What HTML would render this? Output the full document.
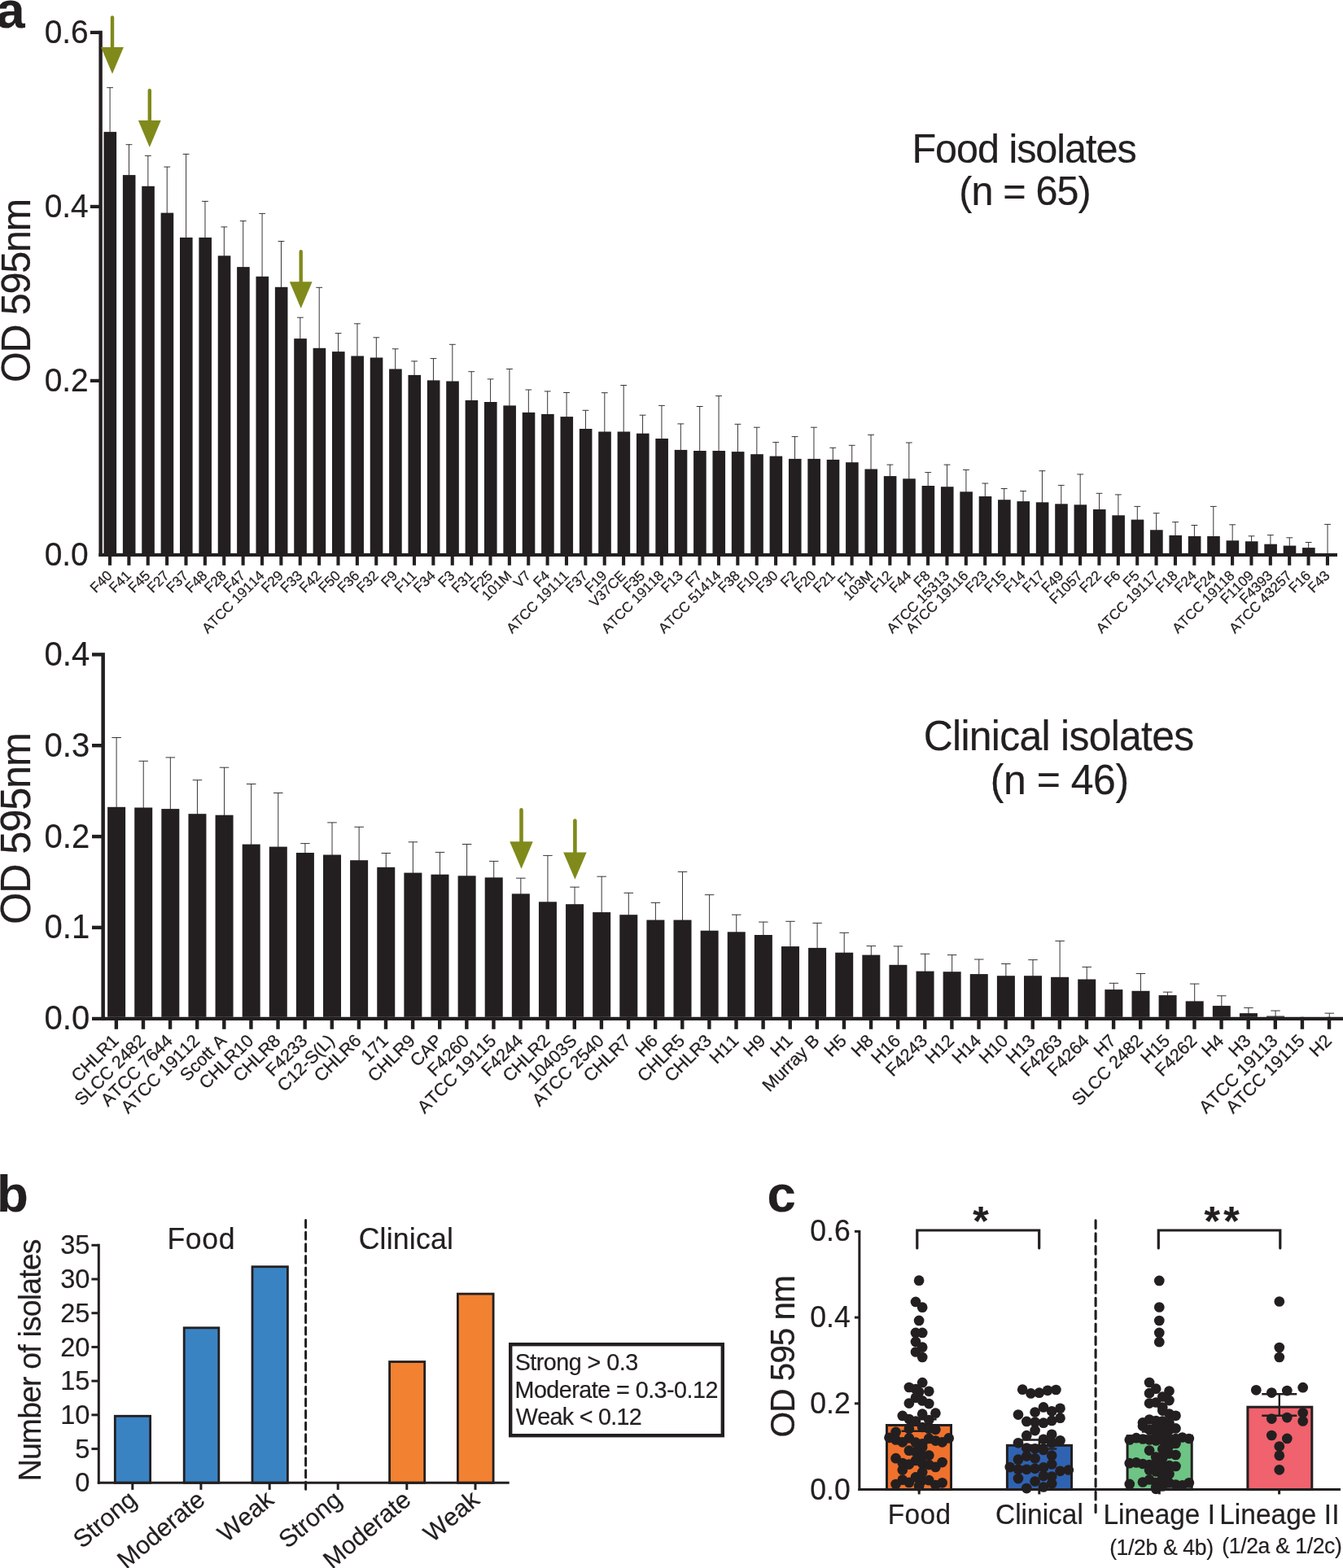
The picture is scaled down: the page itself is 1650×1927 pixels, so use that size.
<!DOCTYPE html>
<html lang="en">
<head>
<meta charset="utf-8">
<title>Biofilm formation of Listeria monocytogenes isolates</title>
<style>
html,body{margin:0;padding:0;background:#fff;}
body{width:1650px;height:1927px;overflow:hidden;}
svg{display:block;}
svg text{font-family:"Liberation Sans", Arial, Helvetica, sans-serif;fill:#231f20;font-kerning:none;stroke:#231f20;stroke-width:0.2px;}
svg text.sm{stroke:#231f20;stroke-width:0.25px;}
</style>
</head>
<body>
<svg width="1650" height="1927" viewBox="0 0 1650 1927" role="img" aria-label="Biofilm formation (OD 595nm) of food and clinical Listeria monocytogenes isolates">
<rect x="0" y="0" width="1650" height="1927" fill="#ffffff"/>
<g id="chartA1">
<line x1="135.10" y1="107.70" x2="135.10" y2="163.10" stroke="#231f20" stroke-width="0.9"/>
<line x1="131.20" y1="107.70" x2="139.00" y2="107.70" stroke="#231f20" stroke-width="0.9"/>
<rect x="127.50" y="162.10" width="15.60" height="517.90" fill="#231f20"/>
<rect x="132.95" y="680.00" width="4.10" height="14.80" fill="#231f20"/>
<line x1="158.47" y1="177.70" x2="158.47" y2="216.10" stroke="#231f20" stroke-width="0.9"/>
<line x1="154.57" y1="177.70" x2="162.37" y2="177.70" stroke="#231f20" stroke-width="0.9"/>
<rect x="150.87" y="215.10" width="15.60" height="464.90" fill="#231f20"/>
<rect x="156.32" y="680.00" width="4.10" height="14.80" fill="#231f20"/>
<line x1="181.85" y1="191.40" x2="181.85" y2="229.80" stroke="#231f20" stroke-width="0.9"/>
<line x1="177.95" y1="191.40" x2="185.75" y2="191.40" stroke="#231f20" stroke-width="0.9"/>
<rect x="174.25" y="228.80" width="15.60" height="451.20" fill="#231f20"/>
<rect x="179.70" y="680.00" width="4.10" height="14.80" fill="#231f20"/>
<line x1="205.22" y1="205.10" x2="205.22" y2="262.60" stroke="#231f20" stroke-width="0.9"/>
<line x1="201.32" y1="205.10" x2="209.12" y2="205.10" stroke="#231f20" stroke-width="0.9"/>
<rect x="197.62" y="261.60" width="15.60" height="418.40" fill="#231f20"/>
<rect x="203.07" y="680.00" width="4.10" height="14.80" fill="#231f20"/>
<line x1="228.60" y1="189.40" x2="228.60" y2="292.90" stroke="#231f20" stroke-width="0.9"/>
<line x1="224.70" y1="189.40" x2="232.50" y2="189.40" stroke="#231f20" stroke-width="0.9"/>
<rect x="221.00" y="291.90" width="15.60" height="388.10" fill="#231f20"/>
<rect x="226.45" y="680.00" width="4.10" height="14.80" fill="#231f20"/>
<line x1="251.97" y1="247.40" x2="251.97" y2="292.90" stroke="#231f20" stroke-width="0.9"/>
<line x1="248.07" y1="247.40" x2="255.87" y2="247.40" stroke="#231f20" stroke-width="0.9"/>
<rect x="244.37" y="291.90" width="15.60" height="388.10" fill="#231f20"/>
<rect x="249.82" y="680.00" width="4.10" height="14.80" fill="#231f20"/>
<line x1="275.34" y1="278.90" x2="275.34" y2="315.30" stroke="#231f20" stroke-width="0.9"/>
<line x1="271.44" y1="278.90" x2="279.24" y2="278.90" stroke="#231f20" stroke-width="0.9"/>
<rect x="267.74" y="314.30" width="15.60" height="365.70" fill="#231f20"/>
<rect x="273.19" y="680.00" width="4.10" height="14.80" fill="#231f20"/>
<line x1="298.72" y1="271.60" x2="298.72" y2="329.10" stroke="#231f20" stroke-width="0.9"/>
<line x1="294.82" y1="271.60" x2="302.62" y2="271.60" stroke="#231f20" stroke-width="0.9"/>
<rect x="291.12" y="328.10" width="15.60" height="351.90" fill="#231f20"/>
<rect x="296.57" y="680.00" width="4.10" height="14.80" fill="#231f20"/>
<line x1="322.09" y1="262.40" x2="322.09" y2="340.80" stroke="#231f20" stroke-width="0.9"/>
<line x1="318.19" y1="262.40" x2="325.99" y2="262.40" stroke="#231f20" stroke-width="0.9"/>
<rect x="314.49" y="339.80" width="15.60" height="340.20" fill="#231f20"/>
<rect x="319.94" y="680.00" width="4.10" height="14.80" fill="#231f20"/>
<line x1="345.47" y1="296.50" x2="345.47" y2="353.80" stroke="#231f20" stroke-width="0.9"/>
<line x1="341.57" y1="296.50" x2="349.37" y2="296.50" stroke="#231f20" stroke-width="0.9"/>
<rect x="337.87" y="352.80" width="15.60" height="327.20" fill="#231f20"/>
<rect x="343.32" y="680.00" width="4.10" height="14.80" fill="#231f20"/>
<line x1="368.84" y1="390.20" x2="368.84" y2="417.10" stroke="#231f20" stroke-width="0.9"/>
<line x1="364.94" y1="390.20" x2="372.74" y2="390.20" stroke="#231f20" stroke-width="0.9"/>
<rect x="361.24" y="416.10" width="15.60" height="263.90" fill="#231f20"/>
<rect x="366.69" y="680.00" width="4.10" height="14.80" fill="#231f20"/>
<line x1="392.21" y1="353.30" x2="392.21" y2="428.80" stroke="#231f20" stroke-width="0.9"/>
<line x1="388.31" y1="353.30" x2="396.11" y2="353.30" stroke="#231f20" stroke-width="0.9"/>
<rect x="384.61" y="427.80" width="15.60" height="252.20" fill="#231f20"/>
<rect x="390.06" y="680.00" width="4.10" height="14.80" fill="#231f20"/>
<line x1="415.59" y1="409.60" x2="415.59" y2="433.10" stroke="#231f20" stroke-width="0.9"/>
<line x1="411.69" y1="409.60" x2="419.49" y2="409.60" stroke="#231f20" stroke-width="0.9"/>
<rect x="407.99" y="432.10" width="15.60" height="247.90" fill="#231f20"/>
<rect x="413.44" y="680.00" width="4.10" height="14.80" fill="#231f20"/>
<line x1="438.96" y1="397.80" x2="438.96" y2="438.50" stroke="#231f20" stroke-width="0.9"/>
<line x1="435.06" y1="397.80" x2="442.86" y2="397.80" stroke="#231f20" stroke-width="0.9"/>
<rect x="431.36" y="437.50" width="15.60" height="242.50" fill="#231f20"/>
<rect x="436.81" y="680.00" width="4.10" height="14.80" fill="#231f20"/>
<line x1="462.34" y1="414.80" x2="462.34" y2="440.50" stroke="#231f20" stroke-width="0.9"/>
<line x1="458.44" y1="414.80" x2="466.24" y2="414.80" stroke="#231f20" stroke-width="0.9"/>
<rect x="454.74" y="439.50" width="15.60" height="240.50" fill="#231f20"/>
<rect x="460.19" y="680.00" width="4.10" height="14.80" fill="#231f20"/>
<line x1="485.71" y1="428.80" x2="485.71" y2="454.50" stroke="#231f20" stroke-width="0.9"/>
<line x1="481.81" y1="428.80" x2="489.61" y2="428.80" stroke="#231f20" stroke-width="0.9"/>
<rect x="478.11" y="453.50" width="15.60" height="226.50" fill="#231f20"/>
<rect x="483.56" y="680.00" width="4.10" height="14.80" fill="#231f20"/>
<line x1="509.08" y1="443.90" x2="509.08" y2="461.90" stroke="#231f20" stroke-width="0.9"/>
<line x1="505.18" y1="443.90" x2="512.98" y2="443.90" stroke="#231f20" stroke-width="0.9"/>
<rect x="501.48" y="460.90" width="15.60" height="219.10" fill="#231f20"/>
<rect x="506.93" y="680.00" width="4.10" height="14.80" fill="#231f20"/>
<line x1="532.46" y1="440.60" x2="532.46" y2="468.40" stroke="#231f20" stroke-width="0.9"/>
<line x1="528.56" y1="440.60" x2="536.36" y2="440.60" stroke="#231f20" stroke-width="0.9"/>
<rect x="524.86" y="467.40" width="15.60" height="212.60" fill="#231f20"/>
<rect x="530.31" y="680.00" width="4.10" height="14.80" fill="#231f20"/>
<line x1="555.83" y1="423.30" x2="555.83" y2="469.50" stroke="#231f20" stroke-width="0.9"/>
<line x1="551.93" y1="423.30" x2="559.73" y2="423.30" stroke="#231f20" stroke-width="0.9"/>
<rect x="548.23" y="468.50" width="15.60" height="211.50" fill="#231f20"/>
<rect x="553.68" y="680.00" width="4.10" height="14.80" fill="#231f20"/>
<line x1="579.21" y1="456.70" x2="579.21" y2="492.90" stroke="#231f20" stroke-width="0.9"/>
<line x1="575.31" y1="456.70" x2="583.11" y2="456.70" stroke="#231f20" stroke-width="0.9"/>
<rect x="571.61" y="491.90" width="15.60" height="188.10" fill="#231f20"/>
<rect x="577.06" y="680.00" width="4.10" height="14.80" fill="#231f20"/>
<line x1="602.58" y1="465.90" x2="602.58" y2="495.00" stroke="#231f20" stroke-width="0.9"/>
<line x1="598.68" y1="465.90" x2="606.48" y2="465.90" stroke="#231f20" stroke-width="0.9"/>
<rect x="594.98" y="494.00" width="15.60" height="186.00" fill="#231f20"/>
<rect x="600.43" y="680.00" width="4.10" height="14.80" fill="#231f20"/>
<line x1="625.95" y1="453.50" x2="625.95" y2="499.40" stroke="#231f20" stroke-width="0.9"/>
<line x1="622.05" y1="453.50" x2="629.85" y2="453.50" stroke="#231f20" stroke-width="0.9"/>
<rect x="618.35" y="498.40" width="15.60" height="181.60" fill="#231f20"/>
<rect x="623.80" y="680.00" width="4.10" height="14.80" fill="#231f20"/>
<line x1="649.33" y1="479.00" x2="649.33" y2="507.90" stroke="#231f20" stroke-width="0.9"/>
<line x1="645.43" y1="479.00" x2="653.23" y2="479.00" stroke="#231f20" stroke-width="0.9"/>
<rect x="641.73" y="506.90" width="15.60" height="173.10" fill="#231f20"/>
<rect x="647.18" y="680.00" width="4.10" height="14.80" fill="#231f20"/>
<line x1="672.70" y1="480.90" x2="672.70" y2="509.90" stroke="#231f20" stroke-width="0.9"/>
<line x1="668.80" y1="480.90" x2="676.60" y2="480.90" stroke="#231f20" stroke-width="0.9"/>
<rect x="665.10" y="508.90" width="15.60" height="171.10" fill="#231f20"/>
<rect x="670.55" y="680.00" width="4.10" height="14.80" fill="#231f20"/>
<line x1="696.08" y1="482.50" x2="696.08" y2="513.10" stroke="#231f20" stroke-width="0.9"/>
<line x1="692.18" y1="482.50" x2="699.98" y2="482.50" stroke="#231f20" stroke-width="0.9"/>
<rect x="688.48" y="512.10" width="15.60" height="167.90" fill="#231f20"/>
<rect x="693.93" y="680.00" width="4.10" height="14.80" fill="#231f20"/>
<line x1="719.45" y1="504.30" x2="719.45" y2="528.00" stroke="#231f20" stroke-width="0.9"/>
<line x1="715.55" y1="504.30" x2="723.35" y2="504.30" stroke="#231f20" stroke-width="0.9"/>
<rect x="711.85" y="527.00" width="15.60" height="153.00" fill="#231f20"/>
<rect x="717.30" y="680.00" width="4.10" height="14.80" fill="#231f20"/>
<line x1="742.82" y1="482.70" x2="742.82" y2="531.50" stroke="#231f20" stroke-width="0.9"/>
<line x1="738.92" y1="482.70" x2="746.72" y2="482.70" stroke="#231f20" stroke-width="0.9"/>
<rect x="735.22" y="530.50" width="15.60" height="149.50" fill="#231f20"/>
<rect x="740.67" y="680.00" width="4.10" height="14.80" fill="#231f20"/>
<line x1="766.20" y1="473.50" x2="766.20" y2="531.50" stroke="#231f20" stroke-width="0.9"/>
<line x1="762.30" y1="473.50" x2="770.10" y2="473.50" stroke="#231f20" stroke-width="0.9"/>
<rect x="758.60" y="530.50" width="15.60" height="149.50" fill="#231f20"/>
<rect x="764.05" y="680.00" width="4.10" height="14.80" fill="#231f20"/>
<line x1="789.57" y1="510.20" x2="789.57" y2="533.70" stroke="#231f20" stroke-width="0.9"/>
<line x1="785.67" y1="510.20" x2="793.47" y2="510.20" stroke="#231f20" stroke-width="0.9"/>
<rect x="781.97" y="532.70" width="15.60" height="147.30" fill="#231f20"/>
<rect x="787.42" y="680.00" width="4.10" height="14.80" fill="#231f20"/>
<line x1="812.95" y1="498.40" x2="812.95" y2="540.00" stroke="#231f20" stroke-width="0.9"/>
<line x1="809.05" y1="498.40" x2="816.85" y2="498.40" stroke="#231f20" stroke-width="0.9"/>
<rect x="805.35" y="539.00" width="15.60" height="141.00" fill="#231f20"/>
<rect x="810.80" y="680.00" width="4.10" height="14.80" fill="#231f20"/>
<line x1="836.32" y1="520.90" x2="836.32" y2="553.90" stroke="#231f20" stroke-width="0.9"/>
<line x1="832.42" y1="520.90" x2="840.22" y2="520.90" stroke="#231f20" stroke-width="0.9"/>
<rect x="828.72" y="552.90" width="15.60" height="127.10" fill="#231f20"/>
<rect x="834.17" y="680.00" width="4.10" height="14.80" fill="#231f20"/>
<line x1="859.69" y1="499.50" x2="859.69" y2="555.00" stroke="#231f20" stroke-width="0.9"/>
<line x1="855.79" y1="499.50" x2="863.59" y2="499.50" stroke="#231f20" stroke-width="0.9"/>
<rect x="852.09" y="554.00" width="15.60" height="126.00" fill="#231f20"/>
<rect x="857.54" y="680.00" width="4.10" height="14.80" fill="#231f20"/>
<line x1="883.07" y1="486.60" x2="883.07" y2="555.00" stroke="#231f20" stroke-width="0.9"/>
<line x1="879.17" y1="486.60" x2="886.97" y2="486.60" stroke="#231f20" stroke-width="0.9"/>
<rect x="875.47" y="554.00" width="15.60" height="126.00" fill="#231f20"/>
<rect x="880.92" y="680.00" width="4.10" height="14.80" fill="#231f20"/>
<line x1="906.44" y1="521.30" x2="906.44" y2="556.10" stroke="#231f20" stroke-width="0.9"/>
<line x1="902.54" y1="521.30" x2="910.34" y2="521.30" stroke="#231f20" stroke-width="0.9"/>
<rect x="898.84" y="555.10" width="15.60" height="124.90" fill="#231f20"/>
<rect x="904.29" y="680.00" width="4.10" height="14.80" fill="#231f20"/>
<line x1="929.82" y1="525.20" x2="929.82" y2="559.20" stroke="#231f20" stroke-width="0.9"/>
<line x1="925.92" y1="525.20" x2="933.72" y2="525.20" stroke="#231f20" stroke-width="0.9"/>
<rect x="922.22" y="558.20" width="15.60" height="121.80" fill="#231f20"/>
<rect x="927.67" y="680.00" width="4.10" height="14.80" fill="#231f20"/>
<line x1="953.19" y1="543.60" x2="953.19" y2="561.60" stroke="#231f20" stroke-width="0.9"/>
<line x1="949.29" y1="543.60" x2="957.09" y2="543.60" stroke="#231f20" stroke-width="0.9"/>
<rect x="945.59" y="560.60" width="15.60" height="119.40" fill="#231f20"/>
<rect x="951.04" y="680.00" width="4.10" height="14.80" fill="#231f20"/>
<line x1="976.56" y1="536.60" x2="976.56" y2="564.90" stroke="#231f20" stroke-width="0.9"/>
<line x1="972.66" y1="536.60" x2="980.46" y2="536.60" stroke="#231f20" stroke-width="0.9"/>
<rect x="968.96" y="563.90" width="15.60" height="116.10" fill="#231f20"/>
<rect x="974.41" y="680.00" width="4.10" height="14.80" fill="#231f20"/>
<line x1="999.94" y1="525.20" x2="999.94" y2="564.90" stroke="#231f20" stroke-width="0.9"/>
<line x1="996.04" y1="525.20" x2="1003.84" y2="525.20" stroke="#231f20" stroke-width="0.9"/>
<rect x="992.34" y="563.90" width="15.60" height="116.10" fill="#231f20"/>
<rect x="997.79" y="680.00" width="4.10" height="14.80" fill="#231f20"/>
<line x1="1023.31" y1="550.30" x2="1023.31" y2="565.90" stroke="#231f20" stroke-width="0.9"/>
<line x1="1019.41" y1="550.30" x2="1027.21" y2="550.30" stroke="#231f20" stroke-width="0.9"/>
<rect x="1015.71" y="564.90" width="15.60" height="115.10" fill="#231f20"/>
<rect x="1021.16" y="680.00" width="4.10" height="14.80" fill="#231f20"/>
<line x1="1046.69" y1="547.30" x2="1046.69" y2="569.20" stroke="#231f20" stroke-width="0.9"/>
<line x1="1042.79" y1="547.30" x2="1050.59" y2="547.30" stroke="#231f20" stroke-width="0.9"/>
<rect x="1039.09" y="568.20" width="15.60" height="111.80" fill="#231f20"/>
<rect x="1044.54" y="680.00" width="4.10" height="14.80" fill="#231f20"/>
<line x1="1070.06" y1="534.40" x2="1070.06" y2="577.50" stroke="#231f20" stroke-width="0.9"/>
<line x1="1066.16" y1="534.40" x2="1073.96" y2="534.40" stroke="#231f20" stroke-width="0.9"/>
<rect x="1062.46" y="576.50" width="15.60" height="103.50" fill="#231f20"/>
<rect x="1067.91" y="680.00" width="4.10" height="14.80" fill="#231f20"/>
<line x1="1093.43" y1="571.10" x2="1093.43" y2="586.10" stroke="#231f20" stroke-width="0.9"/>
<line x1="1089.53" y1="571.10" x2="1097.33" y2="571.10" stroke="#231f20" stroke-width="0.9"/>
<rect x="1085.83" y="585.10" width="15.60" height="94.90" fill="#231f20"/>
<rect x="1091.28" y="680.00" width="4.10" height="14.80" fill="#231f20"/>
<line x1="1116.81" y1="544.00" x2="1116.81" y2="589.30" stroke="#231f20" stroke-width="0.9"/>
<line x1="1112.91" y1="544.00" x2="1120.71" y2="544.00" stroke="#231f20" stroke-width="0.9"/>
<rect x="1109.21" y="588.30" width="15.60" height="91.70" fill="#231f20"/>
<rect x="1114.66" y="680.00" width="4.10" height="14.80" fill="#231f20"/>
<line x1="1140.18" y1="580.60" x2="1140.18" y2="598.00" stroke="#231f20" stroke-width="0.9"/>
<line x1="1136.28" y1="580.60" x2="1144.08" y2="580.60" stroke="#231f20" stroke-width="0.9"/>
<rect x="1132.58" y="597.00" width="15.60" height="83.00" fill="#231f20"/>
<rect x="1138.03" y="680.00" width="4.10" height="14.80" fill="#231f20"/>
<line x1="1163.56" y1="571.10" x2="1163.56" y2="599.20" stroke="#231f20" stroke-width="0.9"/>
<line x1="1159.66" y1="571.10" x2="1167.46" y2="571.10" stroke="#231f20" stroke-width="0.9"/>
<rect x="1155.96" y="598.20" width="15.60" height="81.80" fill="#231f20"/>
<rect x="1161.41" y="680.00" width="4.10" height="14.80" fill="#231f20"/>
<line x1="1186.93" y1="577.40" x2="1186.93" y2="605.30" stroke="#231f20" stroke-width="0.9"/>
<line x1="1183.03" y1="577.40" x2="1190.83" y2="577.40" stroke="#231f20" stroke-width="0.9"/>
<rect x="1179.33" y="604.30" width="15.60" height="75.70" fill="#231f20"/>
<rect x="1184.78" y="680.00" width="4.10" height="14.80" fill="#231f20"/>
<line x1="1210.30" y1="594.00" x2="1210.30" y2="611.00" stroke="#231f20" stroke-width="0.9"/>
<line x1="1206.40" y1="594.00" x2="1214.20" y2="594.00" stroke="#231f20" stroke-width="0.9"/>
<rect x="1202.70" y="610.00" width="15.60" height="70.00" fill="#231f20"/>
<rect x="1208.15" y="680.00" width="4.10" height="14.80" fill="#231f20"/>
<line x1="1233.68" y1="600.50" x2="1233.68" y2="615.20" stroke="#231f20" stroke-width="0.9"/>
<line x1="1229.78" y1="600.50" x2="1237.58" y2="600.50" stroke="#231f20" stroke-width="0.9"/>
<rect x="1226.08" y="614.20" width="15.60" height="65.80" fill="#231f20"/>
<rect x="1231.53" y="680.00" width="4.10" height="14.80" fill="#231f20"/>
<line x1="1257.05" y1="603.50" x2="1257.05" y2="617.10" stroke="#231f20" stroke-width="0.9"/>
<line x1="1253.15" y1="603.50" x2="1260.95" y2="603.50" stroke="#231f20" stroke-width="0.9"/>
<rect x="1249.45" y="616.10" width="15.60" height="63.90" fill="#231f20"/>
<rect x="1254.90" y="680.00" width="4.10" height="14.80" fill="#231f20"/>
<line x1="1280.43" y1="578.70" x2="1280.43" y2="618.30" stroke="#231f20" stroke-width="0.9"/>
<line x1="1276.53" y1="578.70" x2="1284.33" y2="578.70" stroke="#231f20" stroke-width="0.9"/>
<rect x="1272.83" y="617.30" width="15.60" height="62.70" fill="#231f20"/>
<rect x="1278.28" y="680.00" width="4.10" height="14.80" fill="#231f20"/>
<line x1="1303.80" y1="596.40" x2="1303.80" y2="620.30" stroke="#231f20" stroke-width="0.9"/>
<line x1="1299.90" y1="596.40" x2="1307.70" y2="596.40" stroke="#231f20" stroke-width="0.9"/>
<rect x="1296.20" y="619.30" width="15.60" height="60.70" fill="#231f20"/>
<rect x="1301.65" y="680.00" width="4.10" height="14.80" fill="#231f20"/>
<line x1="1327.17" y1="582.90" x2="1327.17" y2="621.30" stroke="#231f20" stroke-width="0.9"/>
<line x1="1323.27" y1="582.90" x2="1331.07" y2="582.90" stroke="#231f20" stroke-width="0.9"/>
<rect x="1319.57" y="620.30" width="15.60" height="59.70" fill="#231f20"/>
<rect x="1325.02" y="680.00" width="4.10" height="14.80" fill="#231f20"/>
<line x1="1350.55" y1="606.30" x2="1350.55" y2="627.00" stroke="#231f20" stroke-width="0.9"/>
<line x1="1346.65" y1="606.30" x2="1354.45" y2="606.30" stroke="#231f20" stroke-width="0.9"/>
<rect x="1342.95" y="626.00" width="15.60" height="54.00" fill="#231f20"/>
<rect x="1348.40" y="680.00" width="4.10" height="14.80" fill="#231f20"/>
<line x1="1373.92" y1="607.90" x2="1373.92" y2="634.30" stroke="#231f20" stroke-width="0.9"/>
<line x1="1370.02" y1="607.90" x2="1377.82" y2="607.90" stroke="#231f20" stroke-width="0.9"/>
<rect x="1366.32" y="633.30" width="15.60" height="46.70" fill="#231f20"/>
<rect x="1371.77" y="680.00" width="4.10" height="14.80" fill="#231f20"/>
<line x1="1397.30" y1="622.40" x2="1397.30" y2="639.60" stroke="#231f20" stroke-width="0.9"/>
<line x1="1393.40" y1="622.40" x2="1401.20" y2="622.40" stroke="#231f20" stroke-width="0.9"/>
<rect x="1389.70" y="638.60" width="15.60" height="41.40" fill="#231f20"/>
<rect x="1395.15" y="680.00" width="4.10" height="14.80" fill="#231f20"/>
<line x1="1420.67" y1="630.70" x2="1420.67" y2="652.30" stroke="#231f20" stroke-width="0.9"/>
<line x1="1416.77" y1="630.70" x2="1424.57" y2="630.70" stroke="#231f20" stroke-width="0.9"/>
<rect x="1413.07" y="651.30" width="15.60" height="28.70" fill="#231f20"/>
<rect x="1418.52" y="680.00" width="4.10" height="14.80" fill="#231f20"/>
<line x1="1444.04" y1="641.60" x2="1444.04" y2="658.90" stroke="#231f20" stroke-width="0.9"/>
<line x1="1440.14" y1="641.60" x2="1447.94" y2="641.60" stroke="#231f20" stroke-width="0.9"/>
<rect x="1436.44" y="657.90" width="15.60" height="22.10" fill="#231f20"/>
<rect x="1441.89" y="680.00" width="4.10" height="14.80" fill="#231f20"/>
<line x1="1467.42" y1="645.50" x2="1467.42" y2="660.00" stroke="#231f20" stroke-width="0.9"/>
<line x1="1463.52" y1="645.50" x2="1471.32" y2="645.50" stroke="#231f20" stroke-width="0.9"/>
<rect x="1459.82" y="659.00" width="15.60" height="21.00" fill="#231f20"/>
<rect x="1465.27" y="680.00" width="4.10" height="14.80" fill="#231f20"/>
<line x1="1490.79" y1="622.40" x2="1490.79" y2="660.00" stroke="#231f20" stroke-width="0.9"/>
<line x1="1486.89" y1="622.40" x2="1494.69" y2="622.40" stroke="#231f20" stroke-width="0.9"/>
<rect x="1483.19" y="659.00" width="15.60" height="21.00" fill="#231f20"/>
<rect x="1488.64" y="680.00" width="4.10" height="14.80" fill="#231f20"/>
<line x1="1514.17" y1="644.80" x2="1514.17" y2="665.30" stroke="#231f20" stroke-width="0.9"/>
<line x1="1510.27" y1="644.80" x2="1518.07" y2="644.80" stroke="#231f20" stroke-width="0.9"/>
<rect x="1506.57" y="664.30" width="15.60" height="15.70" fill="#231f20"/>
<rect x="1512.02" y="680.00" width="4.10" height="14.80" fill="#231f20"/>
<line x1="1537.54" y1="658.80" x2="1537.54" y2="666.30" stroke="#231f20" stroke-width="0.9"/>
<line x1="1533.64" y1="658.80" x2="1541.44" y2="658.80" stroke="#231f20" stroke-width="0.9"/>
<rect x="1529.94" y="665.30" width="15.60" height="14.70" fill="#231f20"/>
<rect x="1535.39" y="680.00" width="4.10" height="14.80" fill="#231f20"/>
<line x1="1560.91" y1="657.60" x2="1560.91" y2="669.70" stroke="#231f20" stroke-width="0.9"/>
<line x1="1557.01" y1="657.60" x2="1564.81" y2="657.60" stroke="#231f20" stroke-width="0.9"/>
<rect x="1553.31" y="668.70" width="15.60" height="11.30" fill="#231f20"/>
<rect x="1558.76" y="680.00" width="4.10" height="14.80" fill="#231f20"/>
<line x1="1584.29" y1="660.80" x2="1584.29" y2="671.60" stroke="#231f20" stroke-width="0.9"/>
<line x1="1580.39" y1="660.80" x2="1588.19" y2="660.80" stroke="#231f20" stroke-width="0.9"/>
<rect x="1576.69" y="670.60" width="15.60" height="9.40" fill="#231f20"/>
<rect x="1582.14" y="680.00" width="4.10" height="14.80" fill="#231f20"/>
<line x1="1607.66" y1="666.50" x2="1607.66" y2="674.10" stroke="#231f20" stroke-width="0.9"/>
<line x1="1603.76" y1="666.50" x2="1611.56" y2="666.50" stroke="#231f20" stroke-width="0.9"/>
<rect x="1600.06" y="673.10" width="15.60" height="6.90" fill="#231f20"/>
<rect x="1605.51" y="680.00" width="4.10" height="14.80" fill="#231f20"/>
<line x1="1631.04" y1="644.40" x2="1631.04" y2="681.00" stroke="#231f20" stroke-width="0.9"/>
<line x1="1627.14" y1="644.40" x2="1634.94" y2="644.40" stroke="#231f20" stroke-width="0.9"/>
<rect x="1628.89" y="680.00" width="4.10" height="14.80" fill="#231f20"/>
<rect x="121.40" y="37.75" width="4.40" height="646.25" fill="#231f20"/>
<rect x="121.40" y="679.90" width="1521.60" height="4.10" fill="#231f20"/>
<rect x="110.90" y="37.80" width="11.50" height="4.20" fill="#231f20"/>
<rect x="110.90" y="251.80" width="11.50" height="4.20" fill="#231f20"/>
<rect x="110.90" y="465.80" width="11.50" height="4.20" fill="#231f20"/>
<text transform="translate(0 52.80) scale(1 1.04)" x="54.68" y="0" font-size="38.9" letter-spacing="0.000">0.6</text>
<text transform="translate(0 266.80) scale(1 1.04)" x="54.68" y="0" font-size="38.9" letter-spacing="0.000">0.4</text>
<text transform="translate(0 480.80) scale(1 1.04)" x="54.68" y="0" font-size="38.9" letter-spacing="0.000">0.2</text>
<text transform="translate(0 695.00) scale(1 1.04)" x="54.68" y="0" font-size="38.9" letter-spacing="0.000">0.0</text>
<text x="138.80" y="708.50" font-size="17.3" text-anchor="end" transform="rotate(-45 138.80 708.50)" class="sm">F40</text>
<text x="162.17" y="708.50" font-size="17.3" text-anchor="end" transform="rotate(-45 162.17 708.50)" class="sm">F41</text>
<text x="185.55" y="708.50" font-size="17.3" text-anchor="end" transform="rotate(-45 185.55 708.50)" class="sm">F45</text>
<text x="208.92" y="708.50" font-size="17.3" text-anchor="end" transform="rotate(-45 208.92 708.50)" class="sm">F27</text>
<text x="232.30" y="708.50" font-size="17.3" text-anchor="end" transform="rotate(-45 232.30 708.50)" class="sm">F37</text>
<text x="255.67" y="708.50" font-size="17.3" text-anchor="end" transform="rotate(-45 255.67 708.50)" class="sm">F48</text>
<text x="279.04" y="708.50" font-size="17.3" text-anchor="end" transform="rotate(-45 279.04 708.50)" class="sm">F28</text>
<text x="302.42" y="708.50" font-size="17.3" text-anchor="end" transform="rotate(-45 302.42 708.50)" class="sm">F47</text>
<text x="325.79" y="708.50" font-size="17.3" text-anchor="end" transform="rotate(-45 325.79 708.50)" class="sm">ATCC 19114</text>
<text x="349.17" y="708.50" font-size="17.3" text-anchor="end" transform="rotate(-45 349.17 708.50)" class="sm">F29</text>
<text x="372.54" y="708.50" font-size="17.3" text-anchor="end" transform="rotate(-45 372.54 708.50)" class="sm">F33</text>
<text x="395.91" y="708.50" font-size="17.3" text-anchor="end" transform="rotate(-45 395.91 708.50)" class="sm">F42</text>
<text x="419.29" y="708.50" font-size="17.3" text-anchor="end" transform="rotate(-45 419.29 708.50)" class="sm">F50</text>
<text x="442.66" y="708.50" font-size="17.3" text-anchor="end" transform="rotate(-45 442.66 708.50)" class="sm">F36</text>
<text x="466.04" y="708.50" font-size="17.3" text-anchor="end" transform="rotate(-45 466.04 708.50)" class="sm">F32</text>
<text x="489.41" y="708.50" font-size="17.3" text-anchor="end" transform="rotate(-45 489.41 708.50)" class="sm">F9</text>
<text x="512.78" y="708.50" font-size="17.3" text-anchor="end" transform="rotate(-45 512.78 708.50)" class="sm">F11</text>
<text x="536.16" y="708.50" font-size="17.3" text-anchor="end" transform="rotate(-45 536.16 708.50)" class="sm">F34</text>
<text x="559.53" y="708.50" font-size="17.3" text-anchor="end" transform="rotate(-45 559.53 708.50)" class="sm">F3</text>
<text x="582.91" y="708.50" font-size="17.3" text-anchor="end" transform="rotate(-45 582.91 708.50)" class="sm">F31</text>
<text x="606.28" y="708.50" font-size="17.3" text-anchor="end" transform="rotate(-45 606.28 708.50)" class="sm">F25</text>
<text x="629.65" y="708.50" font-size="17.3" text-anchor="end" transform="rotate(-45 629.65 708.50)" class="sm">101M</text>
<text x="653.03" y="708.50" font-size="17.3" text-anchor="end" transform="rotate(-45 653.03 708.50)" class="sm">V7</text>
<text x="676.40" y="708.50" font-size="17.3" text-anchor="end" transform="rotate(-45 676.40 708.50)" class="sm">F4</text>
<text x="699.78" y="708.50" font-size="17.3" text-anchor="end" transform="rotate(-45 699.78 708.50)" class="sm">ATCC 19111</text>
<text x="723.15" y="708.50" font-size="17.3" text-anchor="end" transform="rotate(-45 723.15 708.50)" class="sm">F37</text>
<text x="746.52" y="708.50" font-size="17.3" text-anchor="end" transform="rotate(-45 746.52 708.50)" class="sm">F19</text>
<text x="769.90" y="708.50" font-size="17.3" text-anchor="end" transform="rotate(-45 769.90 708.50)" class="sm">V37CE</text>
<text x="793.27" y="708.50" font-size="17.3" text-anchor="end" transform="rotate(-45 793.27 708.50)" class="sm">F35</text>
<text x="816.65" y="708.50" font-size="17.3" text-anchor="end" transform="rotate(-45 816.65 708.50)" class="sm">ATCC 19118</text>
<text x="840.02" y="708.50" font-size="17.3" text-anchor="end" transform="rotate(-45 840.02 708.50)" class="sm">F13</text>
<text x="863.39" y="708.50" font-size="17.3" text-anchor="end" transform="rotate(-45 863.39 708.50)" class="sm">F7</text>
<text x="886.77" y="708.50" font-size="17.3" text-anchor="end" transform="rotate(-45 886.77 708.50)" class="sm">ATCC 51414</text>
<text x="910.14" y="708.50" font-size="17.3" text-anchor="end" transform="rotate(-45 910.14 708.50)" class="sm">F38</text>
<text x="933.52" y="708.50" font-size="17.3" text-anchor="end" transform="rotate(-45 933.52 708.50)" class="sm">F10</text>
<text x="956.89" y="708.50" font-size="17.3" text-anchor="end" transform="rotate(-45 956.89 708.50)" class="sm">F30</text>
<text x="980.26" y="708.50" font-size="17.3" text-anchor="end" transform="rotate(-45 980.26 708.50)" class="sm">F2</text>
<text x="1003.64" y="708.50" font-size="17.3" text-anchor="end" transform="rotate(-45 1003.64 708.50)" class="sm">F20</text>
<text x="1027.01" y="708.50" font-size="17.3" text-anchor="end" transform="rotate(-45 1027.01 708.50)" class="sm">F21</text>
<text x="1050.39" y="708.50" font-size="17.3" text-anchor="end" transform="rotate(-45 1050.39 708.50)" class="sm">F1</text>
<text x="1073.76" y="708.50" font-size="17.3" text-anchor="end" transform="rotate(-45 1073.76 708.50)" class="sm">103M</text>
<text x="1097.13" y="708.50" font-size="17.3" text-anchor="end" transform="rotate(-45 1097.13 708.50)" class="sm">F12</text>
<text x="1120.51" y="708.50" font-size="17.3" text-anchor="end" transform="rotate(-45 1120.51 708.50)" class="sm">F44</text>
<text x="1143.88" y="708.50" font-size="17.3" text-anchor="end" transform="rotate(-45 1143.88 708.50)" class="sm">F8</text>
<text x="1167.26" y="708.50" font-size="17.3" text-anchor="end" transform="rotate(-45 1167.26 708.50)" class="sm">ATCC 15313</text>
<text x="1190.63" y="708.50" font-size="17.3" text-anchor="end" transform="rotate(-45 1190.63 708.50)" class="sm">ATCC 19116</text>
<text x="1214.00" y="708.50" font-size="17.3" text-anchor="end" transform="rotate(-45 1214.00 708.50)" class="sm">F23</text>
<text x="1237.38" y="708.50" font-size="17.3" text-anchor="end" transform="rotate(-45 1237.38 708.50)" class="sm">F15</text>
<text x="1260.75" y="708.50" font-size="17.3" text-anchor="end" transform="rotate(-45 1260.75 708.50)" class="sm">F14</text>
<text x="1284.13" y="708.50" font-size="17.3" text-anchor="end" transform="rotate(-45 1284.13 708.50)" class="sm">F17</text>
<text x="1307.50" y="708.50" font-size="17.3" text-anchor="end" transform="rotate(-45 1307.50 708.50)" class="sm">F49</text>
<text x="1330.87" y="708.50" font-size="17.3" text-anchor="end" transform="rotate(-45 1330.87 708.50)" class="sm">F1057</text>
<text x="1354.25" y="708.50" font-size="17.3" text-anchor="end" transform="rotate(-45 1354.25 708.50)" class="sm">F22</text>
<text x="1377.62" y="708.50" font-size="17.3" text-anchor="end" transform="rotate(-45 1377.62 708.50)" class="sm">F6</text>
<text x="1401.00" y="708.50" font-size="17.3" text-anchor="end" transform="rotate(-45 1401.00 708.50)" class="sm">F5</text>
<text x="1424.37" y="708.50" font-size="17.3" text-anchor="end" transform="rotate(-45 1424.37 708.50)" class="sm">ATCC 19117</text>
<text x="1447.74" y="708.50" font-size="17.3" text-anchor="end" transform="rotate(-45 1447.74 708.50)" class="sm">F18</text>
<text x="1471.12" y="708.50" font-size="17.3" text-anchor="end" transform="rotate(-45 1471.12 708.50)" class="sm">F24</text>
<text x="1494.49" y="708.50" font-size="17.3" text-anchor="end" transform="rotate(-45 1494.49 708.50)" class="sm">F24</text>
<text x="1517.87" y="708.50" font-size="17.3" text-anchor="end" transform="rotate(-45 1517.87 708.50)" class="sm">ATCC 19118</text>
<text x="1541.24" y="708.50" font-size="17.3" text-anchor="end" transform="rotate(-45 1541.24 708.50)" class="sm">F1109</text>
<text x="1564.61" y="708.50" font-size="17.3" text-anchor="end" transform="rotate(-45 1564.61 708.50)" class="sm">F4393</text>
<text x="1587.99" y="708.50" font-size="17.3" text-anchor="end" transform="rotate(-45 1587.99 708.50)" class="sm">ATCC 43257</text>
<text x="1611.36" y="708.50" font-size="17.3" text-anchor="end" transform="rotate(-45 1611.36 708.50)" class="sm">F16</text>
<text x="1634.74" y="708.50" font-size="17.3" text-anchor="end" transform="rotate(-45 1634.74 708.50)" class="sm">F43</text>
<text transform="translate(36.80 467.70) rotate(-90) scale(1 1.04)" x="-2.29" y="0" font-size="48.4" letter-spacing="-1.136">OD 595nm</text>
<line x1="138.00" y1="21.50" x2="138.00" y2="60.00" stroke="#808a1b" stroke-width="4.4" stroke-linecap="round"/>
<polygon points="124.10,58.00 151.90,58.00 138.00,90.80" fill="#808a1b"/>
<line x1="183.80" y1="111.10" x2="183.80" y2="150.10" stroke="#808a1b" stroke-width="4.4" stroke-linecap="round"/>
<polygon points="169.90,148.10 197.70,148.10 183.80,180.90" fill="#808a1b"/>
<line x1="369.70" y1="309.10" x2="369.70" y2="348.20" stroke="#808a1b" stroke-width="4.4" stroke-linecap="round"/>
<polygon points="355.80,346.20 383.60,346.20 369.70,378.90" fill="#808a1b"/>
<text transform="translate(0 199.90) scale(1 1.02)" x="1120.52" y="0" font-size="48.5" letter-spacing="-1.020">Food isolates</text>
<text transform="translate(0 251.80) scale(1 1.03)" x="1178.29" y="0" font-size="48.5" letter-spacing="-0.854">(n = 65)</text>
</g>
<g id="chartA2">
<line x1="143.10" y1="906.50" x2="143.10" y2="992.80" stroke="#231f20" stroke-width="0.9"/>
<line x1="137.35" y1="906.50" x2="148.85" y2="906.50" stroke="#231f20" stroke-width="0.9"/>
<rect x="132.10" y="991.80" width="22.00" height="258.00" fill="#231f20"/>
<rect x="140.65" y="1249.80" width="4.40" height="15.00" fill="#231f20"/>
<line x1="176.22" y1="935.30" x2="176.22" y2="993.50" stroke="#231f20" stroke-width="0.9"/>
<line x1="170.47" y1="935.30" x2="181.97" y2="935.30" stroke="#231f20" stroke-width="0.9"/>
<rect x="165.22" y="992.50" width="22.00" height="257.30" fill="#231f20"/>
<rect x="173.77" y="1249.80" width="4.40" height="15.00" fill="#231f20"/>
<line x1="209.33" y1="930.90" x2="209.33" y2="995.10" stroke="#231f20" stroke-width="0.9"/>
<line x1="203.58" y1="930.90" x2="215.08" y2="930.90" stroke="#231f20" stroke-width="0.9"/>
<rect x="198.33" y="994.10" width="22.00" height="255.70" fill="#231f20"/>
<rect x="206.88" y="1249.80" width="4.40" height="15.00" fill="#231f20"/>
<line x1="242.44" y1="958.70" x2="242.44" y2="1001.20" stroke="#231f20" stroke-width="0.9"/>
<line x1="236.69" y1="958.70" x2="248.19" y2="958.70" stroke="#231f20" stroke-width="0.9"/>
<rect x="231.44" y="1000.20" width="22.00" height="249.60" fill="#231f20"/>
<rect x="240.00" y="1249.80" width="4.40" height="15.00" fill="#231f20"/>
<line x1="275.56" y1="943.20" x2="275.56" y2="1002.70" stroke="#231f20" stroke-width="0.9"/>
<line x1="269.81" y1="943.20" x2="281.31" y2="943.20" stroke="#231f20" stroke-width="0.9"/>
<rect x="264.56" y="1001.70" width="22.00" height="248.10" fill="#231f20"/>
<rect x="273.11" y="1249.80" width="4.40" height="15.00" fill="#231f20"/>
<line x1="308.68" y1="963.50" x2="308.68" y2="1038.60" stroke="#231f20" stroke-width="0.9"/>
<line x1="302.93" y1="963.50" x2="314.43" y2="963.50" stroke="#231f20" stroke-width="0.9"/>
<rect x="297.68" y="1037.60" width="22.00" height="212.20" fill="#231f20"/>
<rect x="306.23" y="1249.80" width="4.40" height="15.00" fill="#231f20"/>
<line x1="341.79" y1="974.50" x2="341.79" y2="1041.60" stroke="#231f20" stroke-width="0.9"/>
<line x1="336.04" y1="974.50" x2="347.54" y2="974.50" stroke="#231f20" stroke-width="0.9"/>
<rect x="330.79" y="1040.60" width="22.00" height="209.20" fill="#231f20"/>
<rect x="339.34" y="1249.80" width="4.40" height="15.00" fill="#231f20"/>
<line x1="374.90" y1="1036.60" x2="374.90" y2="1049.00" stroke="#231f20" stroke-width="0.9"/>
<line x1="369.15" y1="1036.60" x2="380.65" y2="1036.60" stroke="#231f20" stroke-width="0.9"/>
<rect x="363.90" y="1048.00" width="22.00" height="201.80" fill="#231f20"/>
<rect x="372.45" y="1249.80" width="4.40" height="15.00" fill="#231f20"/>
<line x1="408.02" y1="1010.90" x2="408.02" y2="1051.50" stroke="#231f20" stroke-width="0.9"/>
<line x1="402.27" y1="1010.90" x2="413.77" y2="1010.90" stroke="#231f20" stroke-width="0.9"/>
<rect x="397.02" y="1050.50" width="22.00" height="199.30" fill="#231f20"/>
<rect x="405.57" y="1249.80" width="4.40" height="15.00" fill="#231f20"/>
<line x1="441.13" y1="1016.30" x2="441.13" y2="1058.20" stroke="#231f20" stroke-width="0.9"/>
<line x1="435.38" y1="1016.30" x2="446.88" y2="1016.30" stroke="#231f20" stroke-width="0.9"/>
<rect x="430.13" y="1057.20" width="22.00" height="192.60" fill="#231f20"/>
<rect x="438.69" y="1249.80" width="4.40" height="15.00" fill="#231f20"/>
<line x1="474.25" y1="1048.50" x2="474.25" y2="1066.80" stroke="#231f20" stroke-width="0.9"/>
<line x1="468.50" y1="1048.50" x2="480.00" y2="1048.50" stroke="#231f20" stroke-width="0.9"/>
<rect x="463.25" y="1065.80" width="22.00" height="184.00" fill="#231f20"/>
<rect x="471.80" y="1249.80" width="4.40" height="15.00" fill="#231f20"/>
<line x1="507.37" y1="1034.80" x2="507.37" y2="1073.60" stroke="#231f20" stroke-width="0.9"/>
<line x1="501.62" y1="1034.80" x2="513.12" y2="1034.80" stroke="#231f20" stroke-width="0.9"/>
<rect x="496.37" y="1072.60" width="22.00" height="177.20" fill="#231f20"/>
<rect x="504.92" y="1249.80" width="4.40" height="15.00" fill="#231f20"/>
<line x1="540.48" y1="1047.40" x2="540.48" y2="1075.70" stroke="#231f20" stroke-width="0.9"/>
<line x1="534.73" y1="1047.40" x2="546.23" y2="1047.40" stroke="#231f20" stroke-width="0.9"/>
<rect x="529.48" y="1074.70" width="22.00" height="175.10" fill="#231f20"/>
<rect x="538.03" y="1249.80" width="4.40" height="15.00" fill="#231f20"/>
<line x1="573.60" y1="1037.50" x2="573.60" y2="1077.30" stroke="#231f20" stroke-width="0.9"/>
<line x1="567.85" y1="1037.50" x2="579.35" y2="1037.50" stroke="#231f20" stroke-width="0.9"/>
<rect x="562.60" y="1076.30" width="22.00" height="173.50" fill="#231f20"/>
<rect x="571.14" y="1249.80" width="4.40" height="15.00" fill="#231f20"/>
<line x1="606.71" y1="1058.40" x2="606.71" y2="1079.40" stroke="#231f20" stroke-width="0.9"/>
<line x1="600.96" y1="1058.40" x2="612.46" y2="1058.40" stroke="#231f20" stroke-width="0.9"/>
<rect x="595.71" y="1078.40" width="22.00" height="171.40" fill="#231f20"/>
<rect x="604.26" y="1249.80" width="4.40" height="15.00" fill="#231f20"/>
<line x1="639.83" y1="1079.20" x2="639.83" y2="1099.40" stroke="#231f20" stroke-width="0.9"/>
<line x1="634.08" y1="1079.20" x2="645.58" y2="1079.20" stroke="#231f20" stroke-width="0.9"/>
<rect x="628.83" y="1098.40" width="22.00" height="151.40" fill="#231f20"/>
<rect x="637.38" y="1249.80" width="4.40" height="15.00" fill="#231f20"/>
<line x1="672.94" y1="1051.40" x2="672.94" y2="1109.30" stroke="#231f20" stroke-width="0.9"/>
<line x1="667.19" y1="1051.40" x2="678.69" y2="1051.40" stroke="#231f20" stroke-width="0.9"/>
<rect x="661.94" y="1108.30" width="22.00" height="141.50" fill="#231f20"/>
<rect x="670.49" y="1249.80" width="4.40" height="15.00" fill="#231f20"/>
<line x1="706.06" y1="1090.20" x2="706.06" y2="1112.20" stroke="#231f20" stroke-width="0.9"/>
<line x1="700.31" y1="1090.20" x2="711.81" y2="1090.20" stroke="#231f20" stroke-width="0.9"/>
<rect x="695.06" y="1111.20" width="22.00" height="138.60" fill="#231f20"/>
<rect x="703.61" y="1249.80" width="4.40" height="15.00" fill="#231f20"/>
<line x1="739.17" y1="1077.20" x2="739.17" y2="1122.10" stroke="#231f20" stroke-width="0.9"/>
<line x1="733.42" y1="1077.20" x2="744.92" y2="1077.20" stroke="#231f20" stroke-width="0.9"/>
<rect x="728.17" y="1121.10" width="22.00" height="128.70" fill="#231f20"/>
<rect x="736.72" y="1249.80" width="4.40" height="15.00" fill="#231f20"/>
<line x1="772.29" y1="1097.40" x2="772.29" y2="1125.20" stroke="#231f20" stroke-width="0.9"/>
<line x1="766.54" y1="1097.40" x2="778.04" y2="1097.40" stroke="#231f20" stroke-width="0.9"/>
<rect x="761.29" y="1124.20" width="22.00" height="125.60" fill="#231f20"/>
<rect x="769.84" y="1249.80" width="4.40" height="15.00" fill="#231f20"/>
<line x1="805.40" y1="1109.40" x2="805.40" y2="1131.60" stroke="#231f20" stroke-width="0.9"/>
<line x1="799.65" y1="1109.40" x2="811.15" y2="1109.40" stroke="#231f20" stroke-width="0.9"/>
<rect x="794.40" y="1130.60" width="22.00" height="119.20" fill="#231f20"/>
<rect x="802.95" y="1249.80" width="4.40" height="15.00" fill="#231f20"/>
<line x1="838.52" y1="1071.40" x2="838.52" y2="1131.60" stroke="#231f20" stroke-width="0.9"/>
<line x1="832.77" y1="1071.40" x2="844.27" y2="1071.40" stroke="#231f20" stroke-width="0.9"/>
<rect x="827.52" y="1130.60" width="22.00" height="119.20" fill="#231f20"/>
<rect x="836.07" y="1249.80" width="4.40" height="15.00" fill="#231f20"/>
<line x1="871.63" y1="1099.70" x2="871.63" y2="1144.70" stroke="#231f20" stroke-width="0.9"/>
<line x1="865.88" y1="1099.70" x2="877.38" y2="1099.70" stroke="#231f20" stroke-width="0.9"/>
<rect x="860.63" y="1143.70" width="22.00" height="106.10" fill="#231f20"/>
<rect x="869.18" y="1249.80" width="4.40" height="15.00" fill="#231f20"/>
<line x1="904.75" y1="1124.20" x2="904.75" y2="1146.30" stroke="#231f20" stroke-width="0.9"/>
<line x1="899.00" y1="1124.20" x2="910.50" y2="1124.20" stroke="#231f20" stroke-width="0.9"/>
<rect x="893.75" y="1145.30" width="22.00" height="104.50" fill="#231f20"/>
<rect x="902.30" y="1249.80" width="4.40" height="15.00" fill="#231f20"/>
<line x1="937.86" y1="1133.10" x2="937.86" y2="1150.00" stroke="#231f20" stroke-width="0.9"/>
<line x1="932.11" y1="1133.10" x2="943.61" y2="1133.10" stroke="#231f20" stroke-width="0.9"/>
<rect x="926.86" y="1149.00" width="22.00" height="100.80" fill="#231f20"/>
<rect x="935.41" y="1249.80" width="4.40" height="15.00" fill="#231f20"/>
<line x1="970.98" y1="1132.30" x2="970.98" y2="1164.10" stroke="#231f20" stroke-width="0.9"/>
<line x1="965.23" y1="1132.30" x2="976.73" y2="1132.30" stroke="#231f20" stroke-width="0.9"/>
<rect x="959.98" y="1163.10" width="22.00" height="86.70" fill="#231f20"/>
<rect x="968.52" y="1249.80" width="4.40" height="15.00" fill="#231f20"/>
<line x1="1004.09" y1="1134.40" x2="1004.09" y2="1165.90" stroke="#231f20" stroke-width="0.9"/>
<line x1="998.34" y1="1134.40" x2="1009.84" y2="1134.40" stroke="#231f20" stroke-width="0.9"/>
<rect x="993.09" y="1164.90" width="22.00" height="84.90" fill="#231f20"/>
<rect x="1001.64" y="1249.80" width="4.40" height="15.00" fill="#231f20"/>
<line x1="1037.20" y1="1146.30" x2="1037.20" y2="1171.70" stroke="#231f20" stroke-width="0.9"/>
<line x1="1031.45" y1="1146.30" x2="1042.95" y2="1146.30" stroke="#231f20" stroke-width="0.9"/>
<rect x="1026.20" y="1170.70" width="22.00" height="79.10" fill="#231f20"/>
<rect x="1034.75" y="1249.80" width="4.40" height="15.00" fill="#231f20"/>
<line x1="1070.32" y1="1162.60" x2="1070.32" y2="1174.60" stroke="#231f20" stroke-width="0.9"/>
<line x1="1064.57" y1="1162.60" x2="1076.07" y2="1162.60" stroke="#231f20" stroke-width="0.9"/>
<rect x="1059.32" y="1173.60" width="22.00" height="76.20" fill="#231f20"/>
<rect x="1067.87" y="1249.80" width="4.40" height="15.00" fill="#231f20"/>
<line x1="1103.43" y1="1162.90" x2="1103.43" y2="1186.80" stroke="#231f20" stroke-width="0.9"/>
<line x1="1097.68" y1="1162.90" x2="1109.18" y2="1162.90" stroke="#231f20" stroke-width="0.9"/>
<rect x="1092.43" y="1185.80" width="22.00" height="64.00" fill="#231f20"/>
<rect x="1100.98" y="1249.80" width="4.40" height="15.00" fill="#231f20"/>
<line x1="1136.55" y1="1172.30" x2="1136.55" y2="1194.60" stroke="#231f20" stroke-width="0.9"/>
<line x1="1130.80" y1="1172.30" x2="1142.30" y2="1172.30" stroke="#231f20" stroke-width="0.9"/>
<rect x="1125.55" y="1193.60" width="22.00" height="56.20" fill="#231f20"/>
<rect x="1134.10" y="1249.80" width="4.40" height="15.00" fill="#231f20"/>
<line x1="1169.66" y1="1173.60" x2="1169.66" y2="1195.20" stroke="#231f20" stroke-width="0.9"/>
<line x1="1163.91" y1="1173.60" x2="1175.41" y2="1173.60" stroke="#231f20" stroke-width="0.9"/>
<rect x="1158.66" y="1194.20" width="22.00" height="55.60" fill="#231f20"/>
<rect x="1167.21" y="1249.80" width="4.40" height="15.00" fill="#231f20"/>
<line x1="1202.78" y1="1179.00" x2="1202.78" y2="1198.10" stroke="#231f20" stroke-width="0.9"/>
<line x1="1197.03" y1="1179.00" x2="1208.53" y2="1179.00" stroke="#231f20" stroke-width="0.9"/>
<rect x="1191.78" y="1197.10" width="22.00" height="52.70" fill="#231f20"/>
<rect x="1200.33" y="1249.80" width="4.40" height="15.00" fill="#231f20"/>
<line x1="1235.89" y1="1184.50" x2="1235.89" y2="1200.20" stroke="#231f20" stroke-width="0.9"/>
<line x1="1230.14" y1="1184.50" x2="1241.64" y2="1184.50" stroke="#231f20" stroke-width="0.9"/>
<rect x="1224.89" y="1199.20" width="22.00" height="50.60" fill="#231f20"/>
<rect x="1233.44" y="1249.80" width="4.40" height="15.00" fill="#231f20"/>
<line x1="1269.01" y1="1179.60" x2="1269.01" y2="1200.20" stroke="#231f20" stroke-width="0.9"/>
<line x1="1263.26" y1="1179.60" x2="1274.76" y2="1179.60" stroke="#231f20" stroke-width="0.9"/>
<rect x="1258.01" y="1199.20" width="22.00" height="50.60" fill="#231f20"/>
<rect x="1266.56" y="1249.80" width="4.40" height="15.00" fill="#231f20"/>
<line x1="1302.12" y1="1156.40" x2="1302.12" y2="1201.80" stroke="#231f20" stroke-width="0.9"/>
<line x1="1296.38" y1="1156.40" x2="1307.88" y2="1156.40" stroke="#231f20" stroke-width="0.9"/>
<rect x="1291.12" y="1200.80" width="22.00" height="49.00" fill="#231f20"/>
<rect x="1299.67" y="1249.80" width="4.40" height="15.00" fill="#231f20"/>
<line x1="1335.24" y1="1188.40" x2="1335.24" y2="1204.50" stroke="#231f20" stroke-width="0.9"/>
<line x1="1329.49" y1="1188.40" x2="1340.99" y2="1188.40" stroke="#231f20" stroke-width="0.9"/>
<rect x="1324.24" y="1203.50" width="22.00" height="46.30" fill="#231f20"/>
<rect x="1332.79" y="1249.80" width="4.40" height="15.00" fill="#231f20"/>
<line x1="1368.36" y1="1208.30" x2="1368.36" y2="1217.10" stroke="#231f20" stroke-width="0.9"/>
<line x1="1362.61" y1="1208.30" x2="1374.11" y2="1208.30" stroke="#231f20" stroke-width="0.9"/>
<rect x="1357.36" y="1216.10" width="22.00" height="33.70" fill="#231f20"/>
<rect x="1365.90" y="1249.80" width="4.40" height="15.00" fill="#231f20"/>
<line x1="1401.47" y1="1196.50" x2="1401.47" y2="1218.80" stroke="#231f20" stroke-width="0.9"/>
<line x1="1395.72" y1="1196.50" x2="1407.22" y2="1196.50" stroke="#231f20" stroke-width="0.9"/>
<rect x="1390.47" y="1217.80" width="22.00" height="32.00" fill="#231f20"/>
<rect x="1399.02" y="1249.80" width="4.40" height="15.00" fill="#231f20"/>
<line x1="1434.59" y1="1219.20" x2="1434.59" y2="1224.10" stroke="#231f20" stroke-width="0.9"/>
<line x1="1428.84" y1="1219.20" x2="1440.34" y2="1219.20" stroke="#231f20" stroke-width="0.9"/>
<rect x="1423.59" y="1223.10" width="22.00" height="26.70" fill="#231f20"/>
<rect x="1432.13" y="1249.80" width="4.40" height="15.00" fill="#231f20"/>
<line x1="1467.70" y1="1209.10" x2="1467.70" y2="1231.40" stroke="#231f20" stroke-width="0.9"/>
<line x1="1461.95" y1="1209.10" x2="1473.45" y2="1209.10" stroke="#231f20" stroke-width="0.9"/>
<rect x="1456.70" y="1230.40" width="22.00" height="19.40" fill="#231f20"/>
<rect x="1465.25" y="1249.80" width="4.40" height="15.00" fill="#231f20"/>
<line x1="1500.82" y1="1223.80" x2="1500.82" y2="1237.10" stroke="#231f20" stroke-width="0.9"/>
<line x1="1495.07" y1="1223.80" x2="1506.57" y2="1223.80" stroke="#231f20" stroke-width="0.9"/>
<rect x="1489.82" y="1236.10" width="22.00" height="13.70" fill="#231f20"/>
<rect x="1498.37" y="1249.80" width="4.40" height="15.00" fill="#231f20"/>
<line x1="1533.93" y1="1238.60" x2="1533.93" y2="1246.20" stroke="#231f20" stroke-width="0.9"/>
<line x1="1528.18" y1="1238.60" x2="1539.68" y2="1238.60" stroke="#231f20" stroke-width="0.9"/>
<rect x="1522.93" y="1245.20" width="22.00" height="4.60" fill="#231f20"/>
<rect x="1531.48" y="1249.80" width="4.40" height="15.00" fill="#231f20"/>
<line x1="1567.05" y1="1242.10" x2="1567.05" y2="1249.60" stroke="#231f20" stroke-width="0.9"/>
<line x1="1561.30" y1="1242.10" x2="1572.80" y2="1242.10" stroke="#231f20" stroke-width="0.9"/>
<rect x="1556.05" y="1248.60" width="22.00" height="1.20" fill="#231f20"/>
<rect x="1564.60" y="1249.80" width="4.40" height="15.00" fill="#231f20"/>
<rect x="1597.71" y="1249.80" width="4.40" height="15.00" fill="#231f20"/>
<line x1="1633.28" y1="1245.20" x2="1633.28" y2="1249.80" stroke="#231f20" stroke-width="0.9"/>
<line x1="1627.53" y1="1245.20" x2="1639.03" y2="1245.20" stroke="#231f20" stroke-width="0.9"/>
<rect x="1630.83" y="1249.80" width="4.40" height="15.00" fill="#231f20"/>
<rect x="124.40" y="802.20" width="4.50" height="451.90" fill="#231f20"/>
<rect x="113.00" y="1249.80" width="1537.00" height="4.30" fill="#231f20"/>
<rect x="113.00" y="802.20" width="12.40" height="4.40" fill="#231f20"/>
<rect x="113.00" y="914.00" width="12.40" height="4.40" fill="#231f20"/>
<rect x="113.00" y="1025.85" width="12.40" height="4.40" fill="#231f20"/>
<rect x="113.00" y="1137.70" width="12.40" height="4.40" fill="#231f20"/>
<text transform="translate(0 817.90) scale(1 1.055)" x="54.59" y="0" font-size="40.0" letter-spacing="0.000">0.4</text>
<text transform="translate(0 929.70) scale(1 1.055)" x="54.59" y="0" font-size="40.0" letter-spacing="0.000">0.3</text>
<text transform="translate(0 1041.55) scale(1 1.055)" x="54.59" y="0" font-size="40.0" letter-spacing="0.000">0.2</text>
<text transform="translate(0 1153.40) scale(1 1.055)" x="54.59" y="0" font-size="40.0" letter-spacing="0.000">0.1</text>
<text transform="translate(0 1265.20) scale(1 1.055)" x="54.59" y="0" font-size="40.0" letter-spacing="0.000">0.0</text>
<text x="147.15" y="1280.30" font-size="21.8" text-anchor="end" transform="rotate(-45 147.15 1280.30)" class="sm">CHLR1</text>
<text x="180.27" y="1280.30" font-size="21.8" text-anchor="end" transform="rotate(-45 180.27 1280.30)" class="sm">SLCC 2482</text>
<text x="213.38" y="1280.30" font-size="21.8" text-anchor="end" transform="rotate(-45 213.38 1280.30)" class="sm">ATCC 7644</text>
<text x="246.50" y="1280.30" font-size="21.8" text-anchor="end" transform="rotate(-45 246.50 1280.30)" class="sm">ATCC 19112</text>
<text x="279.61" y="1280.30" font-size="21.8" text-anchor="end" transform="rotate(-45 279.61 1280.30)" class="sm">Scott A</text>
<text x="312.73" y="1280.30" font-size="21.8" text-anchor="end" transform="rotate(-45 312.73 1280.30)" class="sm">CHLR10</text>
<text x="345.84" y="1280.30" font-size="21.8" text-anchor="end" transform="rotate(-45 345.84 1280.30)" class="sm">CHLR8</text>
<text x="378.95" y="1280.30" font-size="21.8" text-anchor="end" transform="rotate(-45 378.95 1280.30)" class="sm">F4233</text>
<text x="412.07" y="1280.30" font-size="21.8" text-anchor="end" transform="rotate(-45 412.07 1280.30)" class="sm">C12-S(L)</text>
<text x="445.19" y="1280.30" font-size="21.8" text-anchor="end" transform="rotate(-45 445.19 1280.30)" class="sm">CHLR6</text>
<text x="478.30" y="1280.30" font-size="21.8" text-anchor="end" transform="rotate(-45 478.30 1280.30)" class="sm">171</text>
<text x="511.42" y="1280.30" font-size="21.8" text-anchor="end" transform="rotate(-45 511.42 1280.30)" class="sm">CHLR9</text>
<text x="544.53" y="1280.30" font-size="21.8" text-anchor="end" transform="rotate(-45 544.53 1280.30)" class="sm">CAP</text>
<text x="577.64" y="1280.30" font-size="21.8" text-anchor="end" transform="rotate(-45 577.64 1280.30)" class="sm">F4260</text>
<text x="610.76" y="1280.30" font-size="21.8" text-anchor="end" transform="rotate(-45 610.76 1280.30)" class="sm">ATCC 19115</text>
<text x="643.88" y="1280.30" font-size="21.8" text-anchor="end" transform="rotate(-45 643.88 1280.30)" class="sm">F4244</text>
<text x="676.99" y="1280.30" font-size="21.8" text-anchor="end" transform="rotate(-45 676.99 1280.30)" class="sm">CHLR2</text>
<text x="710.11" y="1280.30" font-size="21.8" text-anchor="end" transform="rotate(-45 710.11 1280.30)" class="sm">10403S</text>
<text x="743.22" y="1280.30" font-size="21.8" text-anchor="end" transform="rotate(-45 743.22 1280.30)" class="sm">ATCC 2540</text>
<text x="776.34" y="1280.30" font-size="21.8" text-anchor="end" transform="rotate(-45 776.34 1280.30)" class="sm">CHLR7</text>
<text x="809.45" y="1280.30" font-size="21.8" text-anchor="end" transform="rotate(-45 809.45 1280.30)" class="sm">H6</text>
<text x="842.57" y="1280.30" font-size="21.8" text-anchor="end" transform="rotate(-45 842.57 1280.30)" class="sm">CHLR5</text>
<text x="875.68" y="1280.30" font-size="21.8" text-anchor="end" transform="rotate(-45 875.68 1280.30)" class="sm">CHLR3</text>
<text x="908.80" y="1280.30" font-size="21.8" text-anchor="end" transform="rotate(-45 908.80 1280.30)" class="sm">H11</text>
<text x="941.91" y="1280.30" font-size="21.8" text-anchor="end" transform="rotate(-45 941.91 1280.30)" class="sm">H9</text>
<text x="975.02" y="1280.30" font-size="21.8" text-anchor="end" transform="rotate(-45 975.02 1280.30)" class="sm">H1</text>
<text x="1008.14" y="1280.30" font-size="21.8" text-anchor="end" transform="rotate(-45 1008.14 1280.30)" class="sm">Murray B</text>
<text x="1041.25" y="1280.30" font-size="21.8" text-anchor="end" transform="rotate(-45 1041.25 1280.30)" class="sm">H5</text>
<text x="1074.37" y="1280.30" font-size="21.8" text-anchor="end" transform="rotate(-45 1074.37 1280.30)" class="sm">H8</text>
<text x="1107.48" y="1280.30" font-size="21.8" text-anchor="end" transform="rotate(-45 1107.48 1280.30)" class="sm">H16</text>
<text x="1140.60" y="1280.30" font-size="21.8" text-anchor="end" transform="rotate(-45 1140.60 1280.30)" class="sm">F4243</text>
<text x="1173.71" y="1280.30" font-size="21.8" text-anchor="end" transform="rotate(-45 1173.71 1280.30)" class="sm">H12</text>
<text x="1206.83" y="1280.30" font-size="21.8" text-anchor="end" transform="rotate(-45 1206.83 1280.30)" class="sm">H14</text>
<text x="1239.94" y="1280.30" font-size="21.8" text-anchor="end" transform="rotate(-45 1239.94 1280.30)" class="sm">H10</text>
<text x="1273.06" y="1280.30" font-size="21.8" text-anchor="end" transform="rotate(-45 1273.06 1280.30)" class="sm">H13</text>
<text x="1306.17" y="1280.30" font-size="21.8" text-anchor="end" transform="rotate(-45 1306.17 1280.30)" class="sm">F4263</text>
<text x="1339.29" y="1280.30" font-size="21.8" text-anchor="end" transform="rotate(-45 1339.29 1280.30)" class="sm">F4264</text>
<text x="1372.40" y="1280.30" font-size="21.8" text-anchor="end" transform="rotate(-45 1372.40 1280.30)" class="sm">H7</text>
<text x="1405.52" y="1280.30" font-size="21.8" text-anchor="end" transform="rotate(-45 1405.52 1280.30)" class="sm">SLCC 2482</text>
<text x="1438.63" y="1280.30" font-size="21.8" text-anchor="end" transform="rotate(-45 1438.63 1280.30)" class="sm">H15</text>
<text x="1471.75" y="1280.30" font-size="21.8" text-anchor="end" transform="rotate(-45 1471.75 1280.30)" class="sm">F4262</text>
<text x="1504.87" y="1280.30" font-size="21.8" text-anchor="end" transform="rotate(-45 1504.87 1280.30)" class="sm">H4</text>
<text x="1537.98" y="1280.30" font-size="21.8" text-anchor="end" transform="rotate(-45 1537.98 1280.30)" class="sm">H3</text>
<text x="1571.10" y="1280.30" font-size="21.8" text-anchor="end" transform="rotate(-45 1571.10 1280.30)" class="sm">ATCC 19113</text>
<text x="1604.21" y="1280.30" font-size="21.8" text-anchor="end" transform="rotate(-45 1604.21 1280.30)" class="sm">ATCC 19115</text>
<text x="1637.33" y="1280.30" font-size="21.8" text-anchor="end" transform="rotate(-45 1637.33 1280.30)" class="sm">H2</text>
<text transform="translate(36.90 1133.60) rotate(-90) scale(1 1.04)" x="-2.39" y="0" font-size="50.5" letter-spacing="-1.153">OD 595nm</text>
<line x1="640.50" y1="995.40" x2="640.50" y2="1036.20" stroke="#808a1b" stroke-width="4.6" stroke-linecap="round"/>
<polygon points="626.25,1034.20 654.75,1034.20 640.50,1067.70" fill="#808a1b"/>
<line x1="706.40" y1="1008.50" x2="706.40" y2="1049.40" stroke="#808a1b" stroke-width="4.6" stroke-linecap="round"/>
<polygon points="692.15,1047.40 720.65,1047.40 706.40,1080.70" fill="#808a1b"/>
<text transform="translate(0 921.70) scale(1 1.02)" x="1134.77" y="0" font-size="49.9" letter-spacing="-0.710">Clinical isolates</text>
<text transform="translate(0 975.70) scale(1 1.03)" x="1216.81" y="0" font-size="49.9" letter-spacing="-0.439">(n = 46)</text>
</g>
<text x="-4.80" y="33.90" font-size="63.5" text-anchor="start" font-weight="bold">a</text>
<text x="-3.90" y="1488.80" font-size="63.5" text-anchor="start" font-weight="bold">b</text>
<text x="942.60" y="1489.40" font-size="63.5" text-anchor="start" font-weight="bold">c</text>
<g id="panelB">
<rect x="141.30" y="1740.27" width="43.30" height="82.03" fill="#3a83c3" stroke="#231f20" stroke-width="2.8"/>
<rect x="226.20" y="1631.81" width="42.60" height="190.49" fill="#3a83c3" stroke="#231f20" stroke-width="2.8"/>
<rect x="310.00" y="1556.72" width="43.40" height="265.58" fill="#3a83c3" stroke="#231f20" stroke-width="2.8"/>
<rect x="478.60" y="1673.53" width="43.10" height="148.77" fill="#f28232" stroke="#231f20" stroke-width="2.8"/>
<rect x="562.40" y="1590.10" width="43.70" height="232.20" fill="#f28232" stroke="#231f20" stroke-width="2.8"/>
<line x1="121.30" y1="1528.80" x2="121.30" y2="1823.80" stroke="#231f20" stroke-width="3.0"/>
<line x1="119.80" y1="1822.30" x2="625.70" y2="1822.30" stroke="#231f20" stroke-width="3.0"/>
<text transform="translate(0 1833.40) scale(1 1.044)" x="92.37" y="0" font-size="32.6" letter-spacing="0.000">0</text>
<line x1="112.40" y1="1780.59" x2="121.30" y2="1780.59" stroke="#231f20" stroke-width="3.0"/>
<text transform="translate(0 1791.68) scale(1 1.044)" x="92.37" y="0" font-size="32.6" letter-spacing="0.000">5</text>
<line x1="112.40" y1="1738.87" x2="121.30" y2="1738.87" stroke="#231f20" stroke-width="3.0"/>
<text transform="translate(0 1749.97) scale(1 1.044)" x="74.24" y="0" font-size="32.6" letter-spacing="0.000">10</text>
<line x1="112.40" y1="1697.15" x2="121.30" y2="1697.15" stroke="#231f20" stroke-width="3.0"/>
<text transform="translate(0 1708.25) scale(1 1.044)" x="74.24" y="0" font-size="32.6" letter-spacing="0.000">15</text>
<line x1="112.40" y1="1655.44" x2="121.30" y2="1655.44" stroke="#231f20" stroke-width="3.0"/>
<text transform="translate(0 1666.54) scale(1 1.044)" x="74.24" y="0" font-size="32.6" letter-spacing="0.000">20</text>
<line x1="112.40" y1="1613.72" x2="121.30" y2="1613.72" stroke="#231f20" stroke-width="3.0"/>
<text transform="translate(0 1624.82) scale(1 1.044)" x="74.24" y="0" font-size="32.6" letter-spacing="0.000">25</text>
<line x1="112.40" y1="1572.01" x2="121.30" y2="1572.01" stroke="#231f20" stroke-width="3.0"/>
<text transform="translate(0 1583.11) scale(1 1.044)" x="74.24" y="0" font-size="32.6" letter-spacing="0.000">30</text>
<line x1="112.40" y1="1530.30" x2="121.30" y2="1530.30" stroke="#231f20" stroke-width="3.0"/>
<text transform="translate(0 1541.39) scale(1 1.044)" x="74.24" y="0" font-size="32.6" letter-spacing="0.000">35</text>
<line x1="162.80" y1="1822.30" x2="162.80" y2="1830.90" stroke="#231f20" stroke-width="3.0"/>
<text x="169.70" y="1846.30" font-size="30.5" text-anchor="end" transform="rotate(-40 169.70 1846.30)" letter-spacing="0">Strong</text>
<line x1="246.90" y1="1822.30" x2="246.90" y2="1830.90" stroke="#231f20" stroke-width="3.0"/>
<text x="253.80" y="1846.30" font-size="30.5" text-anchor="end" transform="rotate(-40 253.80 1846.30)" letter-spacing="0">Moderate</text>
<line x1="331.20" y1="1822.30" x2="331.20" y2="1830.90" stroke="#231f20" stroke-width="3.0"/>
<text x="338.10" y="1846.30" font-size="30.5" text-anchor="end" transform="rotate(-40 338.10 1846.30)" letter-spacing="0">Weak</text>
<line x1="415.20" y1="1822.30" x2="415.20" y2="1830.90" stroke="#231f20" stroke-width="3.0"/>
<text x="422.10" y="1846.30" font-size="30.5" text-anchor="end" transform="rotate(-40 422.10 1846.30)" letter-spacing="0">Strong</text>
<line x1="499.80" y1="1822.30" x2="499.80" y2="1830.90" stroke="#231f20" stroke-width="3.0"/>
<text x="506.70" y="1846.30" font-size="30.5" text-anchor="end" transform="rotate(-40 506.70 1846.30)" letter-spacing="0">Moderate</text>
<line x1="584.00" y1="1822.30" x2="584.00" y2="1830.90" stroke="#231f20" stroke-width="3.0"/>
<text x="590.90" y="1846.30" font-size="30.5" text-anchor="end" transform="rotate(-40 590.90 1846.30)" letter-spacing="0">Weak</text>
<line x1="375.6" y1="1499.5" x2="375.6" y2="1830.4" stroke="#231f20" stroke-width="3.0" stroke-dasharray="8.9 5.73" stroke-linecap="round"/>
<text transform="translate(0 1534.60) scale(1 1.03)" x="205.48" y="0" font-size="35.6" letter-spacing="0.624">Food</text>
<text transform="translate(0 1534.60) scale(1 1.03)" x="440.69" y="0" font-size="35.6" letter-spacing="0.206">Clinical</text>
<text transform="translate(50.00 1817.20) rotate(-90) scale(1 1.02)" x="-3.06" y="0" font-size="37.3" letter-spacing="-0.768">Number of isolates</text>
<rect x="627.20" y="1652.20" width="260.60" height="112.00" fill="#fff" stroke="#231f20" stroke-width="4.4"/>
<text transform="translate(0 1684.30) scale(1 1.03)" x="632.70" y="0" font-size="28.7" letter-spacing="-0.518">Strong &gt; 0.3</text>
<text transform="translate(0 1717.70) scale(1 1.03)" x="632.55" y="0" font-size="28.7" letter-spacing="-0.521">Moderate = 0.3-0.12</text>
<text transform="translate(0 1751.10) scale(1 1.03)" x="633.87" y="0" font-size="28.7" letter-spacing="-0.696">Weak &lt; 0.12</text>
</g>
<g id="panelC">
<rect x="1089.50" y="1751.51" width="79.00" height="79.09" fill="#f0712c" stroke="#231f20" stroke-width="3.0"/>
<rect x="1237.40" y="1776.31" width="79.10" height="54.29" fill="#2f63b2" stroke="#231f20" stroke-width="3.0"/>
<rect x="1385.10" y="1764.68" width="79.10" height="65.92" fill="#6dc485" stroke="#231f20" stroke-width="3.0"/>
<rect x="1532.90" y="1729.20" width="78.90" height="101.40" fill="#f0626d" stroke="#231f20" stroke-width="3.0"/>
<line x1="1055.85" y1="1511.90" x2="1055.85" y2="1832.10" stroke="#231f20" stroke-width="3.0"/>
<line x1="1054.35" y1="1830.60" x2="1647.00" y2="1830.60" stroke="#231f20" stroke-width="3.0"/>
<text transform="translate(0 1842.50) scale(1 1.04)" x="995.31" y="0" font-size="35.6" letter-spacing="0.000">0.0</text>
<line x1="1049.90" y1="1724.84" x2="1055.85" y2="1724.84" stroke="#231f20" stroke-width="3.0"/>
<text transform="translate(0 1736.74) scale(1 1.04)" x="995.31" y="0" font-size="35.6" letter-spacing="0.000">0.2</text>
<line x1="1049.90" y1="1619.08" x2="1055.85" y2="1619.08" stroke="#231f20" stroke-width="3.0"/>
<text transform="translate(0 1630.98) scale(1 1.04)" x="995.31" y="0" font-size="35.6" letter-spacing="0.000">0.4</text>
<line x1="1049.90" y1="1513.32" x2="1055.85" y2="1513.32" stroke="#231f20" stroke-width="3.0"/>
<text transform="translate(0 1525.22) scale(1 1.04)" x="995.31" y="0" font-size="35.6" letter-spacing="0.000">0.6</text>
<line x1="1129.20" y1="1830.60" x2="1129.20" y2="1836.40" stroke="#231f20" stroke-width="3.0"/>
<line x1="1276.80" y1="1830.60" x2="1276.80" y2="1836.40" stroke="#231f20" stroke-width="3.0"/>
<line x1="1424.30" y1="1830.60" x2="1424.30" y2="1836.40" stroke="#231f20" stroke-width="3.0"/>
<line x1="1571.60" y1="1830.60" x2="1571.60" y2="1836.40" stroke="#231f20" stroke-width="3.0"/>
<line x1="1129.10" y1="1744.20" x2="1129.10" y2="1758.70" stroke="#231f20" stroke-width="2.4"/>
<line x1="1107.60" y1="1744.20" x2="1150.60" y2="1744.20" stroke="#231f20" stroke-width="2.4"/>
<line x1="1107.60" y1="1758.70" x2="1150.60" y2="1758.70" stroke="#231f20" stroke-width="2.4"/>
<line x1="1276.80" y1="1769.50" x2="1276.80" y2="1780.60" stroke="#231f20" stroke-width="2.4"/>
<line x1="1255.30" y1="1769.50" x2="1298.30" y2="1769.50" stroke="#231f20" stroke-width="2.4"/>
<line x1="1255.30" y1="1780.60" x2="1298.30" y2="1780.60" stroke="#231f20" stroke-width="2.4"/>
<line x1="1424.30" y1="1759.50" x2="1424.30" y2="1771.00" stroke="#231f20" stroke-width="2.4"/>
<line x1="1402.80" y1="1759.50" x2="1445.80" y2="1759.50" stroke="#231f20" stroke-width="2.4"/>
<line x1="1402.80" y1="1771.00" x2="1445.80" y2="1771.00" stroke="#231f20" stroke-width="2.4"/>
<line x1="1571.80" y1="1713.20" x2="1571.80" y2="1739.80" stroke="#231f20" stroke-width="2.4"/>
<line x1="1550.30" y1="1713.20" x2="1593.30" y2="1713.20" stroke="#231f20" stroke-width="2.4"/>
<line x1="1550.30" y1="1739.80" x2="1593.30" y2="1739.80" stroke="#231f20" stroke-width="2.4"/>
<g fill="#231f20">
<circle cx="1129.1" cy="1573.7" r="6.35"/>
<circle cx="1125.0" cy="1599.9" r="6.35"/>
<circle cx="1133.2" cy="1606.7" r="6.35"/>
<circle cx="1129.1" cy="1622.9" r="6.35"/>
<circle cx="1125.0" cy="1637.9" r="6.35"/>
<circle cx="1133.2" cy="1637.9" r="6.35"/>
<circle cx="1125.0" cy="1648.9" r="6.35"/>
<circle cx="1133.2" cy="1655.7" r="6.35"/>
<circle cx="1125.0" cy="1661.5" r="6.35"/>
<circle cx="1133.2" cy="1668.0" r="6.35"/>
<circle cx="1133.2" cy="1699.2" r="6.35"/>
<circle cx="1116.9" cy="1705.0" r="6.35"/>
<circle cx="1125.0" cy="1707.1" r="6.35"/>
<circle cx="1141.3" cy="1709.8" r="6.35"/>
<circle cx="1129.1" cy="1710.8" r="6.35"/>
<circle cx="1125.0" cy="1717.7" r="6.35"/>
<circle cx="1133.2" cy="1721.4" r="6.35"/>
<circle cx="1116.9" cy="1724.6" r="6.35"/>
<circle cx="1141.3" cy="1725.1" r="6.35"/>
<circle cx="1149.4" cy="1736.7" r="6.35"/>
<circle cx="1133.2" cy="1737.7" r="6.35"/>
<circle cx="1108.8" cy="1739.9" r="6.35"/>
<circle cx="1116.9" cy="1744.1" r="6.35"/>
<circle cx="1141.3" cy="1745.1" r="6.35"/>
<circle cx="1125.0" cy="1746.7" r="6.35"/>
<circle cx="1133.2" cy="1754.0" r="6.35"/>
<circle cx="1116.9" cy="1755.7" r="6.35"/>
<circle cx="1141.3" cy="1755.7" r="6.35"/>
<circle cx="1149.4" cy="1756.8" r="6.35"/>
<circle cx="1100.6" cy="1759.9" r="6.35"/>
<circle cx="1092.5" cy="1766.8" r="6.35"/>
<circle cx="1165.7" cy="1767.4" r="6.35"/>
<circle cx="1116.9" cy="1767.4" r="6.35"/>
<circle cx="1141.3" cy="1767.9" r="6.35"/>
<circle cx="1100.6" cy="1769.4" r="6.35"/>
<circle cx="1149.4" cy="1770.6" r="6.35"/>
<circle cx="1108.8" cy="1772.3" r="6.35"/>
<circle cx="1157.6" cy="1772.3" r="6.35"/>
<circle cx="1125.0" cy="1772.7" r="6.35"/>
<circle cx="1133.2" cy="1774.4" r="6.35"/>
<circle cx="1133.2" cy="1778.5" r="6.35"/>
<circle cx="1116.9" cy="1782.7" r="6.35"/>
<circle cx="1125.0" cy="1784.3" r="6.35"/>
<circle cx="1141.3" cy="1788.6" r="6.35"/>
<circle cx="1133.2" cy="1789.2" r="6.35"/>
<circle cx="1100.6" cy="1792.2" r="6.35"/>
<circle cx="1125.0" cy="1795.0" r="6.35"/>
<circle cx="1157.6" cy="1797.1" r="6.35"/>
<circle cx="1108.8" cy="1798.0" r="6.35"/>
<circle cx="1133.2" cy="1798.6" r="6.35"/>
<circle cx="1116.9" cy="1799.6" r="6.35"/>
<circle cx="1141.3" cy="1800.1" r="6.35"/>
<circle cx="1149.4" cy="1802.9" r="6.35"/>
<circle cx="1108.8" cy="1806.5" r="6.35"/>
<circle cx="1133.2" cy="1809.2" r="6.35"/>
<circle cx="1125.0" cy="1815.4" r="6.35"/>
<circle cx="1108.8" cy="1818.7" r="6.35"/>
<circle cx="1133.2" cy="1819.2" r="6.35"/>
<circle cx="1141.3" cy="1819.2" r="6.35"/>
<circle cx="1116.9" cy="1821.9" r="6.35"/>
<circle cx="1157.6" cy="1822.3" r="6.35"/>
<circle cx="1100.6" cy="1824.0" r="6.35"/>
<circle cx="1149.4" cy="1825.0" r="6.35"/>
<circle cx="1129.1" cy="1826.2" r="6.35"/>
<circle cx="1256.2" cy="1707.7" r="6.35"/>
<circle cx="1297.4" cy="1708.0" r="6.35"/>
<circle cx="1287.1" cy="1708.8" r="6.35"/>
<circle cx="1276.8" cy="1711.7" r="6.35"/>
<circle cx="1266.5" cy="1712.4" r="6.35"/>
<circle cx="1282.0" cy="1729.4" r="6.35"/>
<circle cx="1302.5" cy="1730.8" r="6.35"/>
<circle cx="1292.2" cy="1734.3" r="6.35"/>
<circle cx="1271.6" cy="1735.5" r="6.35"/>
<circle cx="1251.0" cy="1738.6" r="6.35"/>
<circle cx="1302.5" cy="1742.7" r="6.35"/>
<circle cx="1292.2" cy="1745.9" r="6.35"/>
<circle cx="1261.3" cy="1746.9" r="6.35"/>
<circle cx="1271.6" cy="1747.7" r="6.35"/>
<circle cx="1282.0" cy="1748.7" r="6.35"/>
<circle cx="1271.6" cy="1758.1" r="6.35"/>
<circle cx="1292.2" cy="1762.8" r="6.35"/>
<circle cx="1261.3" cy="1764.2" r="6.35"/>
<circle cx="1282.0" cy="1768.8" r="6.35"/>
<circle cx="1302.5" cy="1770.3" r="6.35"/>
<circle cx="1251.0" cy="1773.3" r="6.35"/>
<circle cx="1292.2" cy="1773.3" r="6.35"/>
<circle cx="1261.3" cy="1779.5" r="6.35"/>
<circle cx="1271.6" cy="1780.3" r="6.35"/>
<circle cx="1282.0" cy="1782.0" r="6.35"/>
<circle cx="1292.2" cy="1788.7" r="6.35"/>
<circle cx="1261.3" cy="1789.6" r="6.35"/>
<circle cx="1271.6" cy="1792.3" r="6.35"/>
<circle cx="1251.0" cy="1793.7" r="6.35"/>
<circle cx="1292.2" cy="1799.4" r="6.35"/>
<circle cx="1240.8" cy="1803.1" r="6.35"/>
<circle cx="1282.0" cy="1803.4" r="6.35"/>
<circle cx="1271.6" cy="1804.8" r="6.35"/>
<circle cx="1261.3" cy="1805.8" r="6.35"/>
<circle cx="1251.0" cy="1805.8" r="6.35"/>
<circle cx="1312.8" cy="1806.5" r="6.35"/>
<circle cx="1302.5" cy="1807.8" r="6.35"/>
<circle cx="1282.0" cy="1813.8" r="6.35"/>
<circle cx="1292.2" cy="1814.6" r="6.35"/>
<circle cx="1251.0" cy="1817.1" r="6.35"/>
<circle cx="1271.6" cy="1820.5" r="6.35"/>
<circle cx="1292.2" cy="1823.2" r="6.35"/>
<circle cx="1282.0" cy="1827.5" r="6.35"/>
<circle cx="1261.3" cy="1829.1" r="6.35"/>
<circle cx="1571.8" cy="1599.5" r="6.35"/>
<circle cx="1571.8" cy="1656.0" r="6.35"/>
<circle cx="1571.8" cy="1668.0" r="6.35"/>
<circle cx="1543.3" cy="1708.3" r="6.35"/>
<circle cx="1562.3" cy="1711.6" r="6.35"/>
<circle cx="1581.3" cy="1709.1" r="6.35"/>
<circle cx="1600.7" cy="1705.2" r="6.35"/>
<circle cx="1600.7" cy="1736.3" r="6.35"/>
<circle cx="1562.3" cy="1743.6" r="6.35"/>
<circle cx="1581.3" cy="1742.1" r="6.35"/>
<circle cx="1600.7" cy="1746.5" r="6.35"/>
<circle cx="1562.3" cy="1764.0" r="6.35"/>
<circle cx="1581.3" cy="1767.9" r="6.35"/>
<circle cx="1571.8" cy="1777.6" r="6.35"/>
<circle cx="1571.8" cy="1788.8" r="6.35"/>
<circle cx="1571.8" cy="1806.3" r="6.35"/>
<circle cx="1424.3" cy="1573.9" r="6.35"/>
<circle cx="1424.3" cy="1606.5" r="6.35"/>
<circle cx="1424.3" cy="1623.0" r="6.35"/>
<circle cx="1424.3" cy="1637.9" r="6.35"/>
<circle cx="1424.3" cy="1649.2" r="6.35"/>
<circle cx="1412.1" cy="1699.0" r="6.35"/>
<circle cx="1420.2" cy="1706.7" r="6.35"/>
<circle cx="1412.1" cy="1712.2" r="6.35"/>
<circle cx="1436.5" cy="1709.5" r="6.35"/>
<circle cx="1428.3" cy="1716.5" r="6.35"/>
<circle cx="1436.5" cy="1721.1" r="6.35"/>
<circle cx="1412.1" cy="1724.6" r="6.35"/>
<circle cx="1420.2" cy="1723.5" r="6.35"/>
<circle cx="1428.3" cy="1733.6" r="6.35"/>
<circle cx="1436.5" cy="1737.5" r="6.35"/>
<circle cx="1444.5" cy="1739.8" r="6.35"/>
<circle cx="1428.3" cy="1729.5" r="6.35"/>
<circle cx="1404.0" cy="1748.4" r="6.35"/>
<circle cx="1412.1" cy="1744.5" r="6.35"/>
<circle cx="1420.2" cy="1746.0" r="6.35"/>
<circle cx="1428.3" cy="1746.5" r="6.35"/>
<circle cx="1436.5" cy="1748.5" r="6.35"/>
<circle cx="1404.0" cy="1752.5" r="6.35"/>
<circle cx="1420.2" cy="1753.5" r="6.35"/>
<circle cx="1428.3" cy="1755.0" r="6.35"/>
<circle cx="1412.1" cy="1756.9" r="6.35"/>
<circle cx="1444.5" cy="1755.4" r="6.35"/>
<circle cx="1436.5" cy="1757.5" r="6.35"/>
<circle cx="1420.2" cy="1760.5" r="6.35"/>
<circle cx="1428.3" cy="1762.5" r="6.35"/>
<circle cx="1387.8" cy="1769.4" r="6.35"/>
<circle cx="1396.0" cy="1767.2" r="6.35"/>
<circle cx="1404.0" cy="1768.5" r="6.35"/>
<circle cx="1412.1" cy="1769.5" r="6.35"/>
<circle cx="1420.2" cy="1770.5" r="6.35"/>
<circle cx="1428.3" cy="1770.0" r="6.35"/>
<circle cx="1436.5" cy="1769.0" r="6.35"/>
<circle cx="1444.5" cy="1768.0" r="6.35"/>
<circle cx="1452.6" cy="1766.5" r="6.35"/>
<circle cx="1460.8" cy="1768.0" r="6.35"/>
<circle cx="1444.5" cy="1774.0" r="6.35"/>
<circle cx="1436.5" cy="1776.5" r="6.35"/>
<circle cx="1412.1" cy="1782.6" r="6.35"/>
<circle cx="1428.3" cy="1781.0" r="6.35"/>
<circle cx="1420.2" cy="1790.5" r="6.35"/>
<circle cx="1444.5" cy="1788.0" r="6.35"/>
<circle cx="1436.5" cy="1786.5" r="6.35"/>
<circle cx="1428.3" cy="1791.5" r="6.35"/>
<circle cx="1387.8" cy="1798.2" r="6.35"/>
<circle cx="1396.0" cy="1797.4" r="6.35"/>
<circle cx="1404.0" cy="1799.0" r="6.35"/>
<circle cx="1412.1" cy="1800.0" r="6.35"/>
<circle cx="1420.2" cy="1798.0" r="6.35"/>
<circle cx="1428.3" cy="1800.5" r="6.35"/>
<circle cx="1436.5" cy="1801.0" r="6.35"/>
<circle cx="1444.5" cy="1802.0" r="6.35"/>
<circle cx="1412.1" cy="1806.7" r="6.35"/>
<circle cx="1420.2" cy="1808.5" r="6.35"/>
<circle cx="1428.3" cy="1809.0" r="6.35"/>
<circle cx="1436.5" cy="1811.5" r="6.35"/>
<circle cx="1428.3" cy="1813.0" r="6.35"/>
<circle cx="1428.3" cy="1817.0" r="6.35"/>
<circle cx="1404.0" cy="1821.5" r="6.35"/>
<circle cx="1412.1" cy="1818.5" r="6.35"/>
<circle cx="1387.8" cy="1823.9" r="6.35"/>
<circle cx="1460.8" cy="1822.3" r="6.35"/>
<circle cx="1436.5" cy="1822.5" r="6.35"/>
<circle cx="1444.5" cy="1824.6" r="6.35"/>
<circle cx="1452.6" cy="1825.4" r="6.35"/>
<circle cx="1420.2" cy="1827.7" r="6.35"/>
<circle cx="1428.3" cy="1826.5" r="6.35"/>
<circle cx="1420.2" cy="1822.0" r="6.35"/>
<circle cx="1420.2" cy="1829.8" r="6.35"/>
</g>
<line x1="1346.1" y1="1499.9" x2="1346.1" y2="1858.6" stroke="#231f20" stroke-width="3.1" stroke-dasharray="9.6 6.28" stroke-linecap="round"/>
<polyline points="1126.8,1534.0 1126.8,1512.0 1276.7,1512.0 1276.7,1534.0" fill="none" stroke="#231f20" stroke-width="3.2" stroke-linecap="round" stroke-linejoin="miter"/>
<polyline points="1423.3,1534.0 1423.3,1512.0 1572.8,1512.0 1572.8,1534.0" fill="none" stroke="#231f20" stroke-width="3.2" stroke-linecap="round" stroke-linejoin="miter"/>
<text x="1204.90" y="1518.20" font-size="50" text-anchor="middle" font-weight="bold" letter-spacing="0">*</text>
<text x="1503.20" y="1518.20" font-size="50" text-anchor="middle" font-weight="bold" letter-spacing="4.2">**</text>
<text transform="translate(0 1873.10) scale(1 1.03)" x="1090.66" y="0" font-size="33.4" letter-spacing="0.421">Food</text>
<text transform="translate(0 1873.10) scale(1 1.03)" x="1223.00" y="0" font-size="33.4" letter-spacing="0.040">Clinical</text>
<text transform="translate(0 1873.20) scale(1 1.03)" x="1355.46" y="0" font-size="33.4" letter-spacing="0.024">Lineage I</text>
<text transform="translate(0 1873.20) scale(1 1.03)" x="1498.16" y="0" font-size="33.4" letter-spacing="0.068">Lineage II</text>
<text transform="translate(0 1910.70) scale(1 1.03)" x="1363.15" y="0" font-size="26.6" letter-spacing="-0.370">(1/2b &amp; 4b)</text>
<text transform="translate(0 1908.50) scale(1 1.03)" x="1501.35" y="0" font-size="26.6" letter-spacing="-0.399">(1/2a &amp; 1/2c)</text>
<text transform="translate(976.00 1764.50) rotate(-90) scale(1 1.04)" x="-1.92" y="0" font-size="40.6" letter-spacing="-1.025">OD 595 nm</text>
</g>
</svg>
</body>
</html>
